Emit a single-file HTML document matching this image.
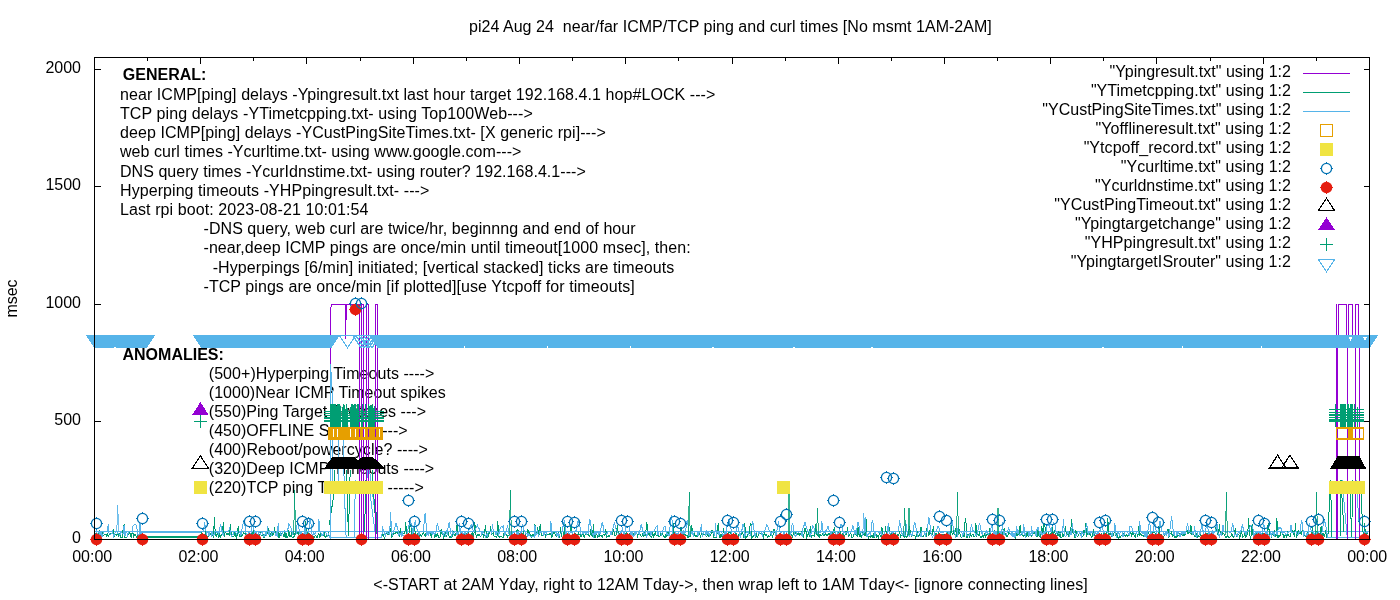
<!DOCTYPE html><html><head><meta charset="utf-8"><style>html,body{margin:0;padding:0;background:#fff;width:1400px;height:600px;overflow:hidden;position:relative}text{font-family:"Liberation Sans",sans-serif}</style></head><body><svg width="1400" height="600" viewBox="0 0 1400 600" style="position:absolute;left:0;top:0;will-change:transform" shape-rendering="crispEdges"><rect width="1400" height="600" fill="#fff"/><g font-family="Liberation Sans" font-size="16" fill="#000">
<text x="469.0" y="32" text-anchor="start" font-weight="normal"  letter-spacing="0.0299" xml:space="preserve">pi24 Aug 24  near/far ICMP/TCP ping and curl times [No msmt 1AM-2AM]</text>
<text x="81" y="542.8" text-anchor="end" font-weight="normal"  xml:space="preserve">0</text>
<text x="81" y="425.3" text-anchor="end" font-weight="normal"  xml:space="preserve">500</text>
<text x="81" y="307.8" text-anchor="end" font-weight="normal"  xml:space="preserve">1000</text>
<text x="81" y="190.3" text-anchor="end" font-weight="normal"  xml:space="preserve">1500</text>
<text x="81" y="72.8" text-anchor="end" font-weight="normal"  xml:space="preserve">2000</text>
<text x="92.2" y="561.8" text-anchor="middle" font-weight="normal"  xml:space="preserve">00:00</text>
<text x="198.45" y="561.8" text-anchor="middle" font-weight="normal"  xml:space="preserve">02:00</text>
<text x="304.7" y="561.8" text-anchor="middle" font-weight="normal"  xml:space="preserve">04:00</text>
<text x="410.95" y="561.8" text-anchor="middle" font-weight="normal"  xml:space="preserve">06:00</text>
<text x="517.2" y="561.8" text-anchor="middle" font-weight="normal"  xml:space="preserve">08:00</text>
<text x="623.45" y="561.8" text-anchor="middle" font-weight="normal"  xml:space="preserve">10:00</text>
<text x="729.7" y="561.8" text-anchor="middle" font-weight="normal"  xml:space="preserve">12:00</text>
<text x="835.95" y="561.8" text-anchor="middle" font-weight="normal"  xml:space="preserve">14:00</text>
<text x="942.2" y="561.8" text-anchor="middle" font-weight="normal"  xml:space="preserve">16:00</text>
<text x="1048.45" y="561.8" text-anchor="middle" font-weight="normal"  xml:space="preserve">18:00</text>
<text x="1154.7" y="561.8" text-anchor="middle" font-weight="normal"  xml:space="preserve">20:00</text>
<text x="1260.95" y="561.8" text-anchor="middle" font-weight="normal"  xml:space="preserve">22:00</text>
<text x="1367.2" y="561.8" text-anchor="middle" font-weight="normal"  xml:space="preserve">00:00</text>
<text x="730.5234375" y="589.8" text-anchor="middle" font-weight="normal"  letter-spacing="0.0469" xml:space="preserve">&lt;-START at 2AM Yday, right to 12AM Tday-&gt;, then wrap left to 1AM Tday&lt;- [ignore connecting lines]</text>
<text transform="translate(17,298.5) rotate(-90)" text-anchor="middle">msec</text>
<text x="122.8" y="79.9" text-anchor="start" font-weight="bold"  xml:space="preserve">GENERAL:</text>
<text x="120" y="99.8" text-anchor="start" font-weight="normal"  letter-spacing="0.0679" xml:space="preserve">near ICMP[ping] delays -Ypingresult.txt last hour target 192.168.4.1 hop#LOCK ---&gt;</text>
<text x="120" y="119.0" text-anchor="start" font-weight="normal"  letter-spacing="0.0887" xml:space="preserve">TCP ping delays -YTimetcpping.txt- using Top100Web---&gt;</text>
<text x="120" y="138.2" text-anchor="start" font-weight="normal"  letter-spacing="0.0727" xml:space="preserve">deep ICMP[ping] delays -YCustPingSiteTimes.txt- [X generic rpi]---&gt;</text>
<text x="120" y="157.39999999999998" text-anchor="start" font-weight="normal"  letter-spacing="0.0481" xml:space="preserve">web curl times -Ycurltime.txt- using www.google.com---&gt;</text>
<text x="120" y="176.6" text-anchor="start" font-weight="normal"  letter-spacing="0.0460" xml:space="preserve">DNS query times -YcurIdnstime.txt- using router? 192.168.4.1---&gt;</text>
<text x="120" y="195.8" text-anchor="start" font-weight="normal"  letter-spacing="0.0714" xml:space="preserve">Hyperping timeouts -YHPpingresult.txt- ---&gt;</text>
<text x="120" y="215.0" text-anchor="start" font-weight="normal"  letter-spacing="0.0879" xml:space="preserve">Last rpi boot: 2023-08-21 10:01:54</text>
<text x="203.5" y="234.2" text-anchor="start" font-weight="normal"  letter-spacing="0.0638" xml:space="preserve">-DNS query, web curl are twice/hr, beginnng and end of hour</text>
<text x="203.5" y="253.39999999999998" text-anchor="start" font-weight="normal"  letter-spacing="0.0692" xml:space="preserve">-near,deep ICMP pings are once/min until timeout[1000 msec], then:</text>
<text x="212.7" y="272.59999999999997" text-anchor="start" font-weight="normal"  letter-spacing="0.0925" xml:space="preserve">-Hyperpings [6/min] initiated; [vertical stacked] ticks are timeouts</text>
<text x="203.5" y="291.79999999999995" text-anchor="start" font-weight="normal"  letter-spacing="0.0705" xml:space="preserve">-TCP pings are once/min [if plotted][use Ytcpoff for timeouts]</text>
<text x="122.5" y="359.6" text-anchor="start" font-weight="bold"  xml:space="preserve">ANOMALIES:</text>
<text x="208.8" y="378.6" text-anchor="start" font-weight="normal"  letter-spacing="0.0483" xml:space="preserve">(500+)Hyperping Timeouts ----&gt;</text>
<text x="208.8" y="397.70000000000005" text-anchor="start" font-weight="normal"  letter-spacing="0.0241" xml:space="preserve">(1000)Near ICMP Timeout spikes</text>
<text x="208.8" y="416.8" text-anchor="start" font-weight="normal"  letter-spacing="0.0345" xml:space="preserve">(550)Ping Target Switches ---&gt;</text>
<text x="208.8" y="435.90000000000003" text-anchor="start" font-weight="normal"  letter-spacing="0.0417" xml:space="preserve">(450)OFFLINE System ----&gt;</text>
<text x="208.8" y="455.0" text-anchor="start" font-weight="normal"  letter-spacing="0.0571" xml:space="preserve">(400)Reboot/powercycle? ----&gt;</text>
<text x="208.8" y="474.1" text-anchor="start" font-weight="normal"  letter-spacing="0.0429" xml:space="preserve">(320)Deep ICMP Timeouts ----&gt;</text>
<text x="208.8" y="493.20000000000005" text-anchor="start" font-weight="normal"  letter-spacing="0.0536" xml:space="preserve">(220)TCP ping Timeouts -----&gt;</text>
<text x="1291.0192307692307" y="76.6" text-anchor="end" font-weight="normal"  letter-spacing="0.0192" xml:space="preserve">"Ypingresult.txt" using 1:2</text>
<text x="1291.0296296296297" y="95.6" text-anchor="end" font-weight="normal"  letter-spacing="0.0296" xml:space="preserve">"YTimetcpping.txt" using 1:2</text>
<text x="1291.0151515151515" y="114.6" text-anchor="end" font-weight="normal"  letter-spacing="0.0152" xml:space="preserve">"YCustPingSiteTimes.txt" using 1:2</text>
<text x="1291.0896551724138" y="133.6" text-anchor="end" font-weight="normal"  letter-spacing="0.0897" xml:space="preserve">"Yofflineresult.txt" using 1:2</text>
<text x="1291.051724137931" y="152.6" text-anchor="end" font-weight="normal"  letter-spacing="0.0517" xml:space="preserve">"Ytcpoff_record.txt" using 1:2</text>
<text x="1291.0625" y="171.6" text-anchor="end" font-weight="normal"  letter-spacing="0.0625" xml:space="preserve">"Ycurltime.txt" using 1:2</text>
<text x="1291.0555555555557" y="190.6" text-anchor="end" font-weight="normal"  letter-spacing="0.0556" xml:space="preserve">"Ycurldnstime.txt" using 1:2</text>
<text x="1291.058064516129" y="209.6" text-anchor="end" font-weight="normal"  letter-spacing="0.0581" xml:space="preserve">"YCustPingTimeout.txt" using 1:2</text>
<text x="1291.0785714285714" y="228.6" text-anchor="end" font-weight="normal"  letter-spacing="0.0786" xml:space="preserve">"Ypingtargetchange" using 1:2</text>
<text x="1291.067857142857" y="247.6" text-anchor="end" font-weight="normal"  letter-spacing="0.0679" xml:space="preserve">"YHPpingresult.txt" using 1:2</text>
<text x="1291.0633333333333" y="266.6" text-anchor="end" font-weight="normal"  letter-spacing="0.0633" xml:space="preserve">"YpingtargetISrouter" using 1:2</text>
</g>
<g stroke="#000" stroke-width="1" fill="none" shape-rendering="crispEdges">
<line x1="147.5" y1="539.5" x2="147.5" y2="536.5"/>
<line x1="147.5" y1="57.5" x2="147.5" y2="60.5"/>
<line x1="200.5" y1="539.5" x2="200.5" y2="533.5"/>
<line x1="200.5" y1="57.5" x2="200.5" y2="63.5"/>
<line x1="253.5" y1="539.5" x2="253.5" y2="536.5"/>
<line x1="253.5" y1="57.5" x2="253.5" y2="60.5"/>
<line x1="306.5" y1="539.5" x2="306.5" y2="533.5"/>
<line x1="306.5" y1="57.5" x2="306.5" y2="63.5"/>
<line x1="360.5" y1="539.5" x2="360.5" y2="536.5"/>
<line x1="360.5" y1="57.5" x2="360.5" y2="60.5"/>
<line x1="413.5" y1="539.5" x2="413.5" y2="533.5"/>
<line x1="413.5" y1="57.5" x2="413.5" y2="63.5"/>
<line x1="466.5" y1="539.5" x2="466.5" y2="536.5"/>
<line x1="466.5" y1="57.5" x2="466.5" y2="60.5"/>
<line x1="519.5" y1="539.5" x2="519.5" y2="533.5"/>
<line x1="519.5" y1="57.5" x2="519.5" y2="63.5"/>
<line x1="572.5" y1="539.5" x2="572.5" y2="536.5"/>
<line x1="572.5" y1="57.5" x2="572.5" y2="60.5"/>
<line x1="625.5" y1="539.5" x2="625.5" y2="533.5"/>
<line x1="625.5" y1="57.5" x2="625.5" y2="63.5"/>
<line x1="678.5" y1="539.5" x2="678.5" y2="536.5"/>
<line x1="678.5" y1="57.5" x2="678.5" y2="60.5"/>
<line x1="732.5" y1="539.5" x2="732.5" y2="533.5"/>
<line x1="732.5" y1="57.5" x2="732.5" y2="63.5"/>
<line x1="785.5" y1="539.5" x2="785.5" y2="536.5"/>
<line x1="785.5" y1="57.5" x2="785.5" y2="60.5"/>
<line x1="838.5" y1="539.5" x2="838.5" y2="533.5"/>
<line x1="838.5" y1="57.5" x2="838.5" y2="63.5"/>
<line x1="891.5" y1="539.5" x2="891.5" y2="536.5"/>
<line x1="891.5" y1="57.5" x2="891.5" y2="60.5"/>
<line x1="944.5" y1="539.5" x2="944.5" y2="533.5"/>
<line x1="944.5" y1="57.5" x2="944.5" y2="63.5"/>
<line x1="997.5" y1="539.5" x2="997.5" y2="536.5"/>
<line x1="997.5" y1="57.5" x2="997.5" y2="60.5"/>
<line x1="1050.5" y1="539.5" x2="1050.5" y2="533.5"/>
<line x1="1050.5" y1="57.5" x2="1050.5" y2="63.5"/>
<line x1="1103.5" y1="539.5" x2="1103.5" y2="536.5"/>
<line x1="1103.5" y1="57.5" x2="1103.5" y2="60.5"/>
<line x1="1156.5" y1="539.5" x2="1156.5" y2="533.5"/>
<line x1="1156.5" y1="57.5" x2="1156.5" y2="63.5"/>
<line x1="1210.5" y1="539.5" x2="1210.5" y2="536.5"/>
<line x1="1210.5" y1="57.5" x2="1210.5" y2="60.5"/>
<line x1="1263.5" y1="539.5" x2="1263.5" y2="533.5"/>
<line x1="1263.5" y1="57.5" x2="1263.5" y2="63.5"/>
<line x1="1316.5" y1="539.5" x2="1316.5" y2="536.5"/>
<line x1="1316.5" y1="57.5" x2="1316.5" y2="60.5"/>
<line x1="94.5" y1="421.5" x2="100.5" y2="421.5"/>
<line x1="1369.5" y1="421.5" x2="1363.5" y2="421.5"/>
<line x1="94.5" y1="304.5" x2="100.5" y2="304.5"/>
<line x1="1369.5" y1="304.5" x2="1363.5" y2="304.5"/>
<line x1="94.5" y1="186.5" x2="100.5" y2="186.5"/>
<line x1="1369.5" y1="186.5" x2="1363.5" y2="186.5"/>
<line x1="94.5" y1="69.5" x2="100.5" y2="69.5"/>
<line x1="1369.5" y1="69.5" x2="1363.5" y2="69.5"/>
</g>
<rect x="94" y="531" width="1275" height="1.1" fill="#56b4e9"/>
<rect x="143.4" y="532" width="56.8" height="1.1" fill="#56b4e9"/>
<rect x="144.5" y="536" width="55.8" height="2" fill="#009e73"/>
<polyline points="94.0,539.0 94.9,539.0 95.8,539.0 96.7,539.0 97.5,539.0 98.4,539.0 99.3,539.0 100.2,539.0 101.1,539.0 102.0,539.0 102.9,539.0 103.7,539.0 104.6,539.0 105.5,539.0 106.4,539.0 107.3,539.0 108.2,539.0 109.1,539.0 109.9,539.0 110.8,539.0 111.7,539.0 112.6,539.0 113.5,539.0 114.4,539.0 115.2,539.0 116.1,539.0 117.0,539.0 117.9,539.0 118.8,539.0 119.7,539.0 120.6,539.0 121.4,539.0 122.3,539.0 123.2,539.0 124.1,539.0 125.0,539.0 125.9,539.0 126.8,539.0 127.6,539.0 128.5,539.0 129.4,539.0 130.3,539.0 131.2,539.0 132.1,539.0 133.0,539.0 133.8,539.0 134.7,539.0 135.6,539.0 136.5,539.0 137.4,539.0 138.3,539.0 139.2,539.0 140.0,539.0 140.9,539.0 141.8,539.0 142.7,539.0 143.6,539.0 200.2,539.0 201.1,539.0 202.0,539.0 202.9,539.0 203.8,539.0 204.7,539.0 205.6,539.0 206.4,539.0 207.3,539.0 208.2,539.0 209.1,539.0 210.0,539.0 210.9,539.0 211.8,539.0 212.6,539.0 213.5,539.0 214.4,539.0 215.3,539.0 216.2,539.0 217.1,539.0 218.0,539.0 218.8,539.0 219.7,539.0 220.6,539.0 221.5,539.0 222.4,539.0 223.3,539.0 224.2,539.0 225.0,539.0 225.9,539.0 226.8,539.0 227.7,539.0 228.6,539.0 229.5,539.0 230.4,539.0 231.2,539.0 232.1,539.0 233.0,539.0 233.9,539.0 234.8,539.0 235.7,539.0 236.6,539.0 237.4,539.0 238.3,539.0 239.2,539.0 240.1,539.0 241.0,539.0 241.9,539.0 242.8,539.0 243.6,539.0 244.5,539.0 245.4,539.0 246.3,539.0 247.2,539.0 248.1,539.0 248.9,539.0 249.8,539.0 250.7,539.0 251.6,539.0 252.5,539.0 253.4,539.0 254.3,539.0 255.1,539.0 256.0,539.0 256.9,539.0 257.8,539.0 258.7,539.0 259.6,539.0 260.5,539.0 261.3,539.0 262.2,539.0 263.1,539.0 264.0,539.0 264.9,539.0 265.8,539.0 266.7,539.0 267.5,539.0 268.4,539.0 269.3,539.0 270.2,539.0 271.1,539.0 272.0,539.0 272.9,539.0 273.7,539.0 274.6,539.0 275.5,539.0 276.4,539.0 277.3,539.0 278.2,539.0 279.1,539.0 279.9,539.0 280.8,539.0 281.7,539.0 282.6,539.0 283.5,539.0 284.4,539.0 285.2,539.0 286.1,539.0 287.0,539.0 287.9,539.0 288.8,539.0 289.7,539.0 290.6,539.0 291.4,539.0 292.3,539.0 293.2,539.0 294.1,539.0 295.0,539.0 295.9,539.0 296.8,539.0 297.6,539.0 298.5,539.0 299.4,539.0 300.3,539.0 301.2,539.0 302.1,539.0 303.0,539.0 303.8,539.0 304.7,539.0 305.6,539.0 306.5,539.0 307.4,539.0 308.3,539.0 309.2,539.0 310.0,539.0 310.9,539.0 311.8,539.0 312.7,539.0 313.6,539.0 314.5,539.0 315.4,539.0 316.2,539.0 317.1,539.0 318.0,539.0 318.9,539.0 319.8,539.0 320.7,539.0 321.6,539.0 322.4,539.0 323.3,539.0 324.2,539.0 325.1,539.0 326.0,539.0 326.9,539.0 327.8,539.0 328.6,539.0 329.5,539.0 330.4,539.0 331.3,539.0 332.2,539.0 333.1,539.0 333.9,539.0 334.8,539.0 335.7,539.0 336.6,539.0 337.5,539.0 338.4,539.0 339.3,539.0 340.1,539.0 341.0,539.0 341.9,539.0 342.8,539.0 343.7,539.0 344.6,539.0 345.5,539.0 346.3,539.0 347.2,539.0 348.1,539.0 349.0,539.0 349.9,539.0 350.8,539.0 351.7,539.0 352.5,539.0 353.4,539.0 354.3,539.0 355.2,539.0 356.1,539.0 357.0,539.0 357.9,539.0 358.7,539.0 359.6,539.0 360.5,539.0 361.4,539.0 362.3,539.0 363.2,539.0 364.1,539.0 364.9,539.0 365.8,539.0 366.7,539.0 367.6,539.0 368.5,539.0 369.4,539.0 370.2,539.0 371.1,539.0 372.0,539.0 372.9,539.0 373.8,539.0 374.7,539.0 375.6,539.0 376.4,539.0 377.3,539.0 378.2,539.0 379.1,539.0 380.0,539.0 380.9,539.0 381.8,539.0 382.6,539.0 383.5,539.0 384.4,539.0 385.3,539.0 386.2,539.0 387.1,539.0 388.0,539.0 388.8,539.0 389.7,539.0 390.6,539.0 391.5,539.0 392.4,539.0 393.3,539.0 394.2,539.0 395.0,539.0 395.9,539.0 396.8,539.0 397.7,539.0 398.6,539.0 399.5,539.0 400.4,539.0 401.2,539.0 402.1,539.0 403.0,539.0 403.9,539.0 404.8,539.0 405.7,539.0 406.6,539.0 407.4,539.0 408.3,539.0 409.2,539.0 410.1,539.0 411.0,539.0 411.9,539.0 412.8,539.0 413.6,539.0 414.5,539.0 415.4,539.0 416.3,539.0 417.2,539.0 418.1,539.0 418.9,539.0 419.8,539.0 420.7,539.0 421.6,539.0 422.5,539.0 423.4,539.0 424.3,539.0 425.1,539.0 426.0,539.0 426.9,539.0 427.8,539.0 428.7,539.0 429.6,539.0 430.5,539.0 431.3,539.0 432.2,539.0 433.1,539.0 434.0,539.0 434.9,539.0 435.8,539.0 436.7,539.0 437.5,539.0 438.4,539.0 439.3,539.0 440.2,539.0 441.1,539.0 442.0,539.0 442.9,539.0 443.7,539.0 444.6,539.0 445.5,539.0 446.4,539.0 447.3,539.0 448.2,539.0 449.1,539.0 449.9,539.0 450.8,539.0 451.7,539.0 452.6,539.0 453.5,539.0 454.4,539.0 455.2,539.0 456.1,539.0 457.0,539.0 457.9,539.0 458.8,539.0 459.7,539.0 460.6,539.0 461.4,539.0 462.3,539.0 463.2,539.0 464.1,539.0 465.0,539.0 465.9,539.0 466.8,539.0 467.6,539.0 468.5,539.0 469.4,539.0 470.3,539.0 471.2,539.0 472.1,539.0 473.0,539.0 473.8,539.0 474.7,539.0 475.6,539.0 476.5,539.0 477.4,539.0 478.3,539.0 479.2,539.0 480.0,539.0 480.9,539.0 481.8,539.0 482.7,539.0 483.6,539.0 484.5,539.0 485.4,539.0 486.2,539.0 487.1,539.0 488.0,539.0 488.9,539.0 489.8,539.0 490.7,539.0 491.6,539.0 492.4,539.0 493.3,539.0 494.2,539.0 495.1,539.0 496.0,539.0 496.9,539.0 497.8,539.0 498.6,539.0 499.5,539.0 500.4,539.0 501.3,539.0 502.2,539.0 503.1,539.0 503.9,539.0 504.8,539.0 505.7,539.0 506.6,539.0 507.5,539.0 508.4,539.0 509.3,539.0 510.1,539.0 511.0,539.0 511.9,539.0 512.8,539.0 513.7,539.0 514.6,539.0 515.5,539.0 516.3,539.0 517.2,539.0 518.1,539.0 519.0,539.0 519.9,539.0 520.8,539.0 521.7,539.0 522.5,539.0 523.4,539.0 524.3,539.0 525.2,539.0 526.1,539.0 527.0,539.0 527.9,539.0 528.7,539.0 529.6,539.0 530.5,539.0 531.4,539.0 532.3,539.0 533.2,539.0 534.1,539.0 534.9,539.0 535.8,539.0 536.7,539.0 537.6,539.0 538.5,539.0 539.4,539.0 540.2,539.0 541.1,539.0 542.0,539.0 542.9,539.0 543.8,539.0 544.7,539.0 545.6,539.0 546.4,539.0 547.3,539.0 548.2,539.0 549.1,539.0 550.0,539.0 550.9,539.0 551.8,539.0 552.6,539.0 553.5,539.0 554.4,539.0 555.3,539.0 556.2,539.0 557.1,539.0 558.0,539.0 558.8,539.0 559.7,539.0 560.6,539.0 561.5,539.0 562.4,539.0 563.3,539.0 564.2,539.0 565.0,539.0 565.9,539.0 566.8,539.0 567.7,539.0 568.6,539.0 569.5,539.0 570.4,539.0 571.2,539.0 572.1,539.0 573.0,539.0 573.9,539.0 574.8,539.0 575.7,539.0 576.6,539.0 577.4,539.0 578.3,539.0 579.2,539.0 580.1,539.0 581.0,539.0 581.9,539.0 582.8,539.0 583.6,539.0 584.5,539.0 585.4,539.0 586.3,539.0 587.2,539.0 588.1,539.0 588.9,539.0 589.8,539.0 590.7,539.0 591.6,539.0 592.5,539.0 593.4,539.0 594.3,539.0 595.1,539.0 596.0,539.0 596.9,539.0 597.8,539.0 598.7,539.0 599.6,539.0 600.5,539.0 601.3,539.0 602.2,539.0 603.1,539.0 604.0,539.0 604.9,539.0 605.8,539.0 606.7,539.0 607.5,539.0 608.4,539.0 609.3,539.0 610.2,539.0 611.1,539.0 612.0,539.0 612.9,539.0 613.7,539.0 614.6,539.0 615.5,539.0 616.4,539.0 617.3,539.0 618.2,539.0 619.1,539.0 619.9,539.0 620.8,539.0 621.7,539.0 622.6,539.0 623.5,539.0 624.4,539.0 625.2,539.0 626.1,539.0 627.0,539.0 627.9,539.0 628.8,539.0 629.7,539.0 630.6,539.0 631.4,539.0 632.3,539.0 633.2,539.0 634.1,539.0 635.0,539.0 635.9,539.0 636.8,539.0 637.6,539.0 638.5,539.0 639.4,539.0 640.3,539.0 641.2,539.0 642.1,539.0 643.0,539.0 643.8,539.0 644.7,539.0 645.6,539.0 646.5,539.0 647.4,539.0 648.3,539.0 649.2,539.0 650.0,539.0 650.9,539.0 651.8,539.0 652.7,539.0 653.6,539.0 654.5,539.0 655.4,539.0 656.2,539.0 657.1,539.0 658.0,539.0 658.9,539.0 659.8,539.0 660.7,539.0 661.6,539.0 662.4,539.0 663.3,539.0 664.2,539.0 665.1,539.0 666.0,539.0 666.9,539.0 667.8,539.0 668.6,539.0 669.5,539.0 670.4,539.0 671.3,539.0 672.2,539.0 673.1,539.0 673.9,539.0 674.8,539.0 675.7,539.0 676.6,539.0 677.5,539.0 678.4,539.0 679.3,539.0 680.1,539.0 681.0,539.0 681.9,539.0 682.8,539.0 683.7,539.0 684.6,539.0 685.5,539.0 686.3,539.0 687.2,539.0 688.1,539.0 689.0,539.0 689.9,539.0 690.8,539.0 691.7,539.0 692.5,539.0 693.4,539.0 694.3,539.0 695.2,539.0 696.1,539.0 697.0,539.0 697.9,539.0 698.7,539.0 699.6,539.0 700.5,539.0 701.4,539.0 702.3,539.0 703.2,539.0 704.1,539.0 704.9,539.0 705.8,539.0 706.7,539.0 707.6,539.0 708.5,539.0 709.4,539.0 710.2,539.0 711.1,539.0 712.0,539.0 712.9,539.0 713.8,539.0 714.7,539.0 715.6,539.0 716.4,539.0 717.3,539.0 718.2,539.0 719.1,539.0 720.0,539.0 720.9,539.0 721.8,539.0 722.6,539.0 723.5,539.0 724.4,539.0 725.3,539.0 726.2,539.0 727.1,539.0 728.0,539.0 728.8,539.0 729.7,539.0 730.6,539.0 731.5,539.0 732.4,539.0 733.3,539.0 734.2,539.0 735.0,539.0 735.9,539.0 736.8,539.0 737.7,539.0 738.6,539.0 739.5,539.0 740.4,539.0 741.2,539.0 742.1,539.0 743.0,539.0 743.9,539.0 744.8,539.0 745.7,539.0 746.6,539.0 747.4,539.0 748.3,539.0 749.2,539.0 750.1,539.0 751.0,539.0 751.9,539.0 752.8,539.0 753.6,539.0 754.5,539.0 755.4,539.0 756.3,539.0 757.2,539.0 758.1,539.0 758.9,539.0 759.8,539.0 760.7,539.0 761.6,539.0 762.5,539.0 763.4,539.0 764.3,539.0 765.1,539.0 766.0,539.0 766.9,539.0 767.8,539.0 768.7,539.0 769.6,539.0 770.5,539.0 771.3,539.0 772.2,539.0 773.1,539.0 774.0,539.0 774.9,539.0 775.8,539.0 776.7,539.0 777.5,539.0 778.4,539.0 779.3,539.0 780.2,539.0 781.1,539.0 782.0,539.0 782.9,539.0 783.7,539.0 784.6,539.0 785.5,539.0 786.4,539.0 787.3,539.0 788.2,539.0 789.1,539.0 789.9,539.0 790.8,539.0 791.7,539.0 792.6,539.0 793.5,539.0 794.4,539.0 795.2,539.0 796.1,539.0 797.0,539.0 797.9,539.0 798.8,539.0 799.7,539.0 800.6,539.0 801.4,539.0 802.3,539.0 803.2,539.0 804.1,539.0 805.0,539.0 805.9,539.0 806.8,539.0 807.6,539.0 808.5,539.0 809.4,539.0 810.3,539.0 811.2,539.0 812.1,539.0 813.0,539.0 813.8,539.0 814.7,539.0 815.6,539.0 816.5,539.0 817.4,539.0 818.3,539.0 819.2,539.0 820.0,539.0 820.9,539.0 821.8,539.0 822.7,539.0 823.6,539.0 824.5,539.0 825.4,539.0 826.2,539.0 827.1,539.0 828.0,539.0 828.9,539.0 829.8,539.0 830.7,539.0 831.6,539.0 832.4,539.0 833.3,539.0 834.2,539.0 835.1,539.0 836.0,539.0 836.9,539.0 837.8,539.0 838.6,539.0 839.5,539.0 840.4,539.0 841.3,539.0 842.2,539.0 843.1,539.0 843.9,539.0 844.8,539.0 845.7,539.0 846.6,539.0 847.5,539.0 848.4,539.0 849.3,539.0 850.1,539.0 851.0,539.0 851.9,539.0 852.8,539.0 853.7,539.0 854.6,539.0 855.5,539.0 856.3,539.0 857.2,539.0 858.1,539.0 859.0,539.0 859.9,539.0 860.8,539.0 861.7,539.0 862.5,539.0 863.4,539.0 864.3,539.0 865.2,539.0 866.1,539.0 867.0,539.0 867.9,539.0 868.7,539.0 869.6,539.0 870.5,539.0 871.4,539.0 872.3,539.0 873.2,539.0 874.1,539.0 874.9,539.0 875.8,539.0 876.7,539.0 877.6,539.0 878.5,539.0 879.4,539.0 880.2,539.0 881.1,539.0 882.0,539.0 882.9,539.0 883.8,539.0 884.7,539.0 885.6,539.0 886.4,539.0 887.3,539.0 888.2,539.0 889.1,539.0 890.0,539.0 890.9,539.0 891.8,539.0 892.6,539.0 893.5,539.0 894.4,539.0 895.3,539.0 896.2,539.0 897.1,539.0 898.0,539.0 898.8,539.0 899.7,539.0 900.6,539.0 901.5,539.0 902.4,539.0 903.3,539.0 904.2,539.0 905.0,539.0 905.9,539.0 906.8,539.0 907.7,539.0 908.6,539.0 909.5,539.0 910.4,539.0 911.2,539.0 912.1,539.0 913.0,539.0 913.9,539.0 914.8,539.0 915.7,539.0 916.6,539.0 917.4,539.0 918.3,539.0 919.2,539.0 920.1,539.0 921.0,539.0 921.9,539.0 922.8,539.0 923.6,539.0 924.5,539.0 925.4,539.0 926.3,539.0 927.2,539.0 928.1,539.0 928.9,539.0 929.8,539.0 930.7,539.0 931.6,539.0 932.5,539.0 933.4,539.0 934.3,539.0 935.1,539.0 936.0,539.0 936.9,539.0 937.8,539.0 938.7,539.0 939.6,539.0 940.5,539.0 941.3,539.0 942.2,539.0 943.1,539.0 944.0,539.0 944.9,539.0 945.8,539.0 946.7,539.0 947.5,539.0 948.4,539.0 949.3,539.0 950.2,539.0 951.1,539.0 952.0,539.0 952.9,539.0 953.7,539.0 954.6,539.0 955.5,539.0 956.4,539.0 957.3,539.0 958.2,539.0 959.1,539.0 959.9,539.0 960.8,539.0 961.7,539.0 962.6,539.0 963.5,539.0 964.4,539.0 965.2,539.0 966.1,539.0 967.0,539.0 967.9,539.0 968.8,539.0 969.7,539.0 970.6,539.0 971.4,539.0 972.3,539.0 973.2,539.0 974.1,539.0 975.0,539.0 975.9,539.0 976.8,539.0 977.6,539.0 978.5,539.0 979.4,539.0 980.3,539.0 981.2,539.0 982.1,539.0 983.0,539.0 983.8,539.0 984.7,539.0 985.6,539.0 986.5,539.0 987.4,539.0 988.3,539.0 989.2,539.0 990.0,539.0 990.9,539.0 991.8,539.0 992.7,539.0 993.6,539.0 994.5,539.0 995.4,539.0 996.2,539.0 997.1,539.0 998.0,539.0 998.9,539.0 999.8,539.0 1000.7,539.0 1001.6,539.0 1002.4,539.0 1003.3,539.0 1004.2,539.0 1005.1,539.0 1006.0,539.0 1006.9,539.0 1007.8,539.0 1008.6,539.0 1009.5,539.0 1010.4,539.0 1011.3,539.0 1012.2,539.0 1013.1,539.0 1013.9,539.0 1014.8,539.0 1015.7,539.0 1016.6,539.0 1017.5,539.0 1018.4,539.0 1019.3,539.0 1020.1,539.0 1021.0,539.0 1021.9,539.0 1022.8,539.0 1023.7,539.0 1024.6,539.0 1025.5,539.0 1026.3,539.0 1027.2,539.0 1028.1,539.0 1029.0,539.0 1029.9,539.0 1030.8,539.0 1031.7,539.0 1032.5,539.0 1033.4,539.0 1034.3,539.0 1035.2,539.0 1036.1,539.0 1037.0,539.0 1037.9,539.0 1038.7,539.0 1039.6,539.0 1040.5,539.0 1041.4,539.0 1042.3,539.0 1043.2,539.0 1044.1,539.0 1044.9,539.0 1045.8,539.0 1046.7,539.0 1047.6,539.0 1048.5,539.0 1049.4,539.0 1050.2,539.0 1051.1,539.0 1052.0,539.0 1052.9,539.0 1053.8,539.0 1054.7,539.0 1055.6,539.0 1056.4,539.0 1057.3,539.0 1058.2,539.0 1059.1,539.0 1060.0,539.0 1060.9,539.0 1061.8,539.0 1062.6,539.0 1063.5,539.0 1064.4,539.0 1065.3,539.0 1066.2,539.0 1067.1,539.0 1068.0,539.0 1068.8,539.0 1069.7,539.0 1070.6,539.0 1071.5,539.0 1072.4,539.0 1073.3,539.0 1074.2,539.0 1075.0,539.0 1075.9,539.0 1076.8,539.0 1077.7,539.0 1078.6,539.0 1079.5,539.0 1080.4,539.0 1081.2,539.0 1082.1,539.0 1083.0,539.0 1083.9,539.0 1084.8,539.0 1085.7,539.0 1086.6,539.0 1087.4,539.0 1088.3,539.0 1089.2,539.0 1090.1,539.0 1091.0,539.0 1091.9,539.0 1092.8,539.0 1093.6,539.0 1094.5,539.0 1095.4,539.0 1096.3,539.0 1097.2,539.0 1098.1,539.0 1098.9,539.0 1099.8,539.0 1100.7,539.0 1101.6,539.0 1102.5,539.0 1103.4,539.0 1104.3,539.0 1105.1,539.0 1106.0,539.0 1106.9,539.0 1107.8,539.0 1108.7,539.0 1109.6,539.0 1110.5,539.0 1111.3,539.0 1112.2,539.0 1113.1,539.0 1114.0,539.0 1114.9,539.0 1115.8,539.0 1116.7,539.0 1117.5,539.0 1118.4,539.0 1119.3,539.0 1120.2,539.0 1121.1,539.0 1122.0,539.0 1122.9,539.0 1123.7,539.0 1124.6,539.0 1125.5,539.0 1126.4,539.0 1127.3,539.0 1128.2,539.0 1129.1,539.0 1129.9,539.0 1130.8,539.0 1131.7,539.0 1132.6,539.0 1133.5,539.0 1134.4,539.0 1135.2,539.0 1136.1,539.0 1137.0,539.0 1137.9,539.0 1138.8,539.0 1139.7,539.0 1140.6,539.0 1141.4,539.0 1142.3,539.0 1143.2,539.0 1144.1,539.0 1145.0,539.0 1145.9,539.0 1146.8,539.0 1147.6,539.0 1148.5,539.0 1149.4,539.0 1150.3,539.0 1151.2,539.0 1152.1,539.0 1153.0,539.0 1153.8,539.0 1154.7,539.0 1155.6,539.0 1156.5,539.0 1157.4,539.0 1158.3,539.0 1159.2,539.0 1160.0,539.0 1160.9,539.0 1161.8,539.0 1162.7,539.0 1163.6,539.0 1164.5,539.0 1165.4,539.0 1166.2,539.0 1167.1,539.0 1168.0,539.0 1168.9,539.0 1169.8,539.0 1170.7,539.0 1171.6,539.0 1172.4,539.0 1173.3,539.0 1174.2,539.0 1175.1,539.0 1176.0,539.0 1176.9,539.0 1177.8,539.0 1178.6,539.0 1179.5,539.0 1180.4,539.0 1181.3,539.0 1182.2,539.0 1183.1,539.0 1183.9,539.0 1184.8,539.0 1185.7,539.0 1186.6,539.0 1187.5,539.0 1188.4,539.0 1189.3,539.0 1190.1,539.0 1191.0,539.0 1191.9,539.0 1192.8,539.0 1193.7,539.0 1194.6,539.0 1195.5,539.0 1196.3,539.0 1197.2,539.0 1198.1,539.0 1199.0,539.0 1199.9,539.0 1200.8,539.0 1201.7,539.0 1202.5,539.0 1203.4,539.0 1204.3,539.0 1205.2,539.0 1206.1,539.0 1207.0,539.0 1207.9,539.0 1208.7,539.0 1209.6,539.0 1210.5,539.0 1211.4,539.0 1212.3,539.0 1213.2,539.0 1214.1,539.0 1214.9,539.0 1215.8,539.0 1216.7,539.0 1217.6,539.0 1218.5,539.0 1219.4,539.0 1220.2,539.0 1221.1,539.0 1222.0,539.0 1222.9,539.0 1223.8,539.0 1224.7,539.0 1225.6,539.0 1226.4,539.0 1227.3,539.0 1228.2,539.0 1229.1,539.0 1230.0,539.0 1230.9,539.0 1231.8,539.0 1232.6,539.0 1233.5,539.0 1234.4,539.0 1235.3,539.0 1236.2,539.0 1237.1,539.0 1238.0,539.0 1238.8,539.0 1239.7,539.0 1240.6,539.0 1241.5,539.0 1242.4,539.0 1243.3,539.0 1244.2,539.0 1245.0,539.0 1245.9,539.0 1246.8,539.0 1247.7,539.0 1248.6,539.0 1249.5,539.0 1250.4,539.0 1251.2,539.0 1252.1,539.0 1253.0,539.0 1253.9,539.0 1254.8,539.0 1255.7,539.0 1256.6,539.0 1257.4,539.0 1258.3,539.0 1259.2,539.0 1260.1,539.0 1261.0,539.0 1261.9,539.0 1262.8,539.0 1263.6,539.0 1264.5,539.0 1265.4,539.0 1266.3,539.0 1267.2,539.0 1268.1,539.0 1268.9,539.0 1269.8,539.0 1270.7,539.0 1271.6,539.0 1272.5,539.0 1273.4,539.0 1274.3,539.0 1275.1,539.0 1276.0,539.0 1276.9,539.0 1277.8,539.0 1278.7,539.0 1279.6,539.0 1280.5,539.0 1281.3,539.0 1282.2,539.0 1283.1,539.0 1284.0,539.0 1284.9,539.0 1285.8,539.0 1286.7,539.0 1287.5,539.0 1288.4,539.0 1289.3,539.0 1290.2,539.0 1291.1,539.0 1292.0,539.0 1292.9,539.0 1293.7,539.0 1294.6,539.0 1295.5,539.0 1296.4,539.0 1297.3,539.0 1298.2,539.0 1299.1,539.0 1299.9,539.0 1300.8,539.0 1301.7,539.0 1302.6,539.0 1303.5,539.0 1304.4,539.0 1305.2,539.0 1306.1,539.0 1307.0,539.0 1307.9,539.0 1308.8,539.0 1309.7,539.0 1310.6,539.0 1311.4,539.0 1312.3,539.0 1313.2,539.0 1314.1,539.0 1315.0,539.0 1315.9,539.0 1316.8,539.0 1317.6,539.0 1318.5,539.0 1319.4,539.0 1320.3,539.0 1321.2,539.0 1322.1,539.0 1323.0,539.0 1323.8,539.0 1324.7,539.0 1325.6,539.0 1326.5,539.0 1327.4,539.0 1328.3,539.0 1329.2,539.0 1330.0,539.0 1330.9,539.0 1331.8,539.0 1332.7,539.0 1333.6,539.0 1334.5,539.0 1335.4,539.0 1336.2,539.0 1337.1,539.0 1338.0,539.0 1338.9,539.0 1339.8,539.0 1340.7,539.0 1341.6,539.0 1342.4,539.0 1343.3,539.0 1344.2,539.0 1345.1,539.0 1346.0,539.0 1346.9,539.0 1347.8,539.0 1348.6,539.0 1349.5,539.0 1350.4,539.0 1351.3,539.0 1352.2,539.0 1353.1,539.0 1353.9,539.0 1354.8,539.0 1355.7,539.0 1356.6,539.0 1357.5,539.0 1358.4,539.0 1359.3,539.0 1360.1,539.0 1361.0,539.0 1361.9,539.0 1362.8,539.0 1363.7,539.0 1364.6,539.0 1365.5,539.0 1366.3,539.0 1367.2,539.0 1368.1,539.0" fill="none" stroke="#9400d3" stroke-width="1.0" stroke-linejoin="miter" />
<polyline points="94.0,537.7 94.9,532.7 95.8,534.7 96.7,533.0 97.5,534.8 98.4,534.8 99.3,530.3 100.2,534.6 101.1,536.5 102.0,532.5 102.9,535.6 103.7,535.8 104.6,534.3 105.5,534.3 106.4,536.0 107.3,532.7 108.2,536.4 109.1,534.8 109.9,533.3 110.8,534.1 111.7,533.3 112.6,532.8 113.5,528.8 114.4,537.0 115.2,534.3 116.1,534.0 117.0,535.4 117.9,532.8 118.8,536.3 119.7,533.6 120.6,537.5 121.4,537.7 122.3,537.9 123.2,527.7 124.1,524.5 125.0,537.8 125.9,537.7 126.8,537.9 127.6,534.2 128.5,534.4 129.4,532.6 130.3,533.3 131.2,537.7 132.1,532.8 133.0,533.2 133.8,536.9 134.7,534.6 135.6,534.8 136.5,537.4 137.4,537.4 138.3,534.6 139.2,537.0 140.0,533.6 140.9,534.6 141.8,535.4 142.7,537.0 143.6,537.0 200.2,537.0 201.1,533.6 202.0,532.7 202.9,535.3 203.8,535.5 204.7,534.8 205.6,532.2 206.4,536.8 207.3,537.2 208.2,536.2 209.1,534.8 210.0,532.7 210.9,535.0 211.8,535.3 212.6,535.3 213.5,537.4 214.4,517.0 215.3,535.1 216.2,536.1 217.1,533.9 218.0,534.2 218.8,537.8 219.7,534.4 220.6,536.9 221.5,535.4 222.4,533.8 223.3,522.3 224.2,537.1 225.0,532.8 225.9,532.9 226.8,534.8 227.7,533.7 228.6,533.6 229.5,535.9 230.4,524.5 231.2,534.3 232.1,537.1 233.0,536.5 233.9,536.1 234.8,532.7 235.7,536.0 236.6,537.9 237.4,533.3 238.3,526.1 239.2,536.4 240.1,536.3 241.0,536.7 241.9,535.7 242.8,534.1 243.6,532.7 244.5,533.4 245.4,534.0 246.3,535.3 247.2,534.7 248.1,536.0 248.9,537.6 249.8,537.3 250.7,537.9 251.6,534.4 252.5,537.0 253.4,527.8 254.3,536.6 255.1,533.4 256.0,532.5 256.9,534.7 257.8,535.6 258.7,533.6 259.6,536.1 260.5,533.2 261.3,535.5 262.2,535.3 263.1,534.7 264.0,537.5 264.9,536.0 265.8,532.6 266.7,534.5 267.5,532.5 268.4,527.9 269.3,536.5 270.2,536.1 271.1,533.2 272.0,532.6 272.9,535.2 273.7,532.9 274.6,527.2 275.5,535.9 276.4,535.8 277.3,535.7 278.2,533.3 279.1,537.9 279.9,533.8 280.8,535.4 281.7,533.9 282.6,532.3 283.5,535.5 284.4,533.1 285.2,537.7 286.1,532.9 287.0,537.8 287.9,537.0 288.8,530.3 289.7,536.4 290.6,535.9 291.4,533.8 292.3,538.0 293.2,537.3 294.1,536.5 295.0,532.6 295.9,533.2 296.8,532.6 297.6,533.0 298.5,532.2 299.4,536.6 300.3,535.5 301.2,535.9 302.1,536.8 303.0,535.6 303.8,537.4 304.7,537.1 305.6,521.4 306.5,535.7 307.4,533.4 308.3,536.8 309.2,533.0 310.0,537.9 310.9,534.7 311.8,536.9 312.7,535.3 313.6,537.6 314.5,537.1 315.4,535.7 316.2,536.4 317.1,537.5 318.0,535.1 318.9,533.4 319.8,537.9 320.7,532.8 321.6,534.3 322.4,534.9 323.3,535.4 324.2,532.4 325.1,537.9 326.0,536.5 326.9,535.5 327.8,536.6 328.6,532.5 329.5,537.5 330.4,537.5 331.3,537.5 332.2,537.5 333.1,537.5 333.9,537.5 334.8,537.5 335.7,537.5 336.6,537.5 337.5,537.5 338.4,537.5 339.3,537.5 340.1,537.5 341.0,537.5 341.9,537.5 342.8,537.5 343.7,537.5 344.6,537.5 345.5,537.5 346.3,537.5 347.2,537.5 348.1,537.5 349.0,537.5 349.9,537.5 350.8,537.5 351.7,537.5 352.5,537.5 353.4,537.5 354.3,537.5 355.2,537.5 356.1,537.5 357.0,537.5 357.9,537.5 358.7,537.5 359.6,537.5 360.5,537.5 361.4,537.5 362.3,537.5 363.2,537.5 364.1,537.5 364.9,537.5 365.8,537.5 366.7,537.5 367.6,537.5 368.5,537.5 369.4,537.5 370.2,537.5 371.1,537.5 372.0,537.5 372.9,537.5 373.8,537.5 374.7,537.5 375.6,537.5 376.4,537.5 377.3,537.5 378.2,537.5 379.1,537.5 380.0,537.5 380.9,537.5 381.8,537.5 382.6,532.4 383.5,535.5 384.4,537.9 385.3,536.6 386.2,533.7 387.1,533.2 388.0,534.7 388.8,532.9 389.7,534.4 390.6,527.7 391.5,537.2 392.4,537.0 393.3,533.6 394.2,533.9 395.0,532.7 395.9,533.3 396.8,532.4 397.7,533.4 398.6,532.2 399.5,536.5 400.4,527.7 401.2,535.0 402.1,532.7 403.0,533.8 403.9,533.0 404.8,533.3 405.7,522.0 406.6,532.7 407.4,535.3 408.3,535.1 409.2,532.5 410.1,525.7 411.0,527.0 411.9,537.1 412.8,527.8 413.6,535.6 414.5,525.0 415.4,535.4 416.3,537.0 417.2,537.0 418.1,532.7 418.9,537.1 419.8,534.0 420.7,535.8 421.6,536.8 422.5,533.6 423.4,532.5 424.3,534.5 425.1,536.2 426.0,533.5 426.9,535.2 427.8,534.7 428.7,532.7 429.6,532.5 430.5,534.5 431.3,536.9 432.2,532.4 433.1,533.2 434.0,532.6 434.9,537.6 435.8,533.2 436.7,537.2 437.5,533.1 438.4,536.5 439.3,537.8 440.2,536.4 441.1,529.5 442.0,533.6 442.9,534.3 443.7,537.5 444.6,535.4 445.5,533.3 446.4,536.6 447.3,534.8 448.2,532.6 449.1,535.9 449.9,537.4 450.8,536.6 451.7,537.8 452.6,534.1 453.5,532.3 454.4,534.9 455.2,535.8 456.1,533.2 457.0,525.0 457.9,534.4 458.8,535.4 459.7,535.3 460.6,534.1 461.4,533.6 462.3,535.5 463.2,533.1 464.1,533.8 465.0,535.0 465.9,533.3 466.8,534.7 467.6,535.1 468.5,533.2 469.4,534.5 470.3,535.7 471.2,537.9 472.1,532.3 473.0,536.2 473.8,536.5 474.7,521.6 475.6,532.3 476.5,538.0 477.4,534.5 478.3,535.5 479.2,534.2 480.0,536.3 480.9,536.2 481.8,534.6 482.7,533.5 483.6,536.5 484.5,534.3 485.4,525.4 486.2,532.7 487.1,538.0 488.0,536.9 488.9,532.3 489.8,533.6 490.7,525.9 491.6,534.3 492.4,533.6 493.3,532.9 494.2,537.1 495.1,536.5 496.0,536.1 496.9,537.8 497.8,520.7 498.6,536.2 499.5,537.0 500.4,536.4 501.3,536.1 502.2,537.1 503.1,537.6 503.9,533.4 504.8,533.3 505.7,534.1 506.6,534.2 507.5,537.0 508.4,535.6 509.3,534.4 510.1,536.3 511.0,533.1 511.9,535.2 512.8,534.8 513.7,536.0 514.6,535.1 515.5,534.7 516.3,534.7 517.2,529.2 518.1,530.6 519.0,534.4 519.9,533.4 520.8,534.8 521.7,533.7 522.5,536.6 523.4,530.9 524.3,537.4 525.2,534.3 526.1,536.1 527.0,537.1 527.9,529.4 528.7,534.5 529.6,532.6 530.5,535.8 531.4,537.0 532.3,534.9 533.2,536.7 534.1,533.9 534.9,523.9 535.8,532.5 536.7,534.2 537.6,527.3 538.5,533.5 539.4,534.1 540.2,523.6 541.1,533.6 542.0,535.6 542.9,535.3 543.8,533.8 544.7,532.5 545.6,537.9 546.4,534.1 547.3,534.1 548.2,534.1 549.1,534.8 550.0,533.0 550.9,534.2 551.8,537.2 552.6,534.6 553.5,532.6 554.4,532.6 555.3,534.7 556.2,536.0 557.1,534.1 558.0,534.6 558.8,532.3 559.7,537.6 560.6,527.0 561.5,536.6 562.4,526.9 563.3,534.9 564.2,537.4 565.0,523.6 565.9,537.3 566.8,534.3 567.7,534.9 568.6,534.4 569.5,534.0 570.4,532.6 571.2,523.9 572.1,534.4 573.0,536.4 573.9,535.3 574.8,535.7 575.7,533.8 576.6,535.7 577.4,536.2 578.3,533.2 579.2,535.0 580.1,534.0 581.0,537.1 581.9,535.1 582.8,534.5 583.6,535.3 584.5,537.9 585.4,532.4 586.3,532.8 587.2,534.8 588.1,534.8 588.9,535.3 589.8,536.2 590.7,529.1 591.6,534.1 592.5,537.1 593.4,524.5 594.3,536.5 595.1,537.9 596.0,532.5 596.9,534.7 597.8,537.8 598.7,532.6 599.6,536.0 600.5,535.6 601.3,535.4 602.2,537.5 603.1,534.3 604.0,533.9 604.9,535.9 605.8,529.1 606.7,537.1 607.5,536.5 608.4,536.0 609.3,536.6 610.2,534.1 611.1,533.5 612.0,535.3 612.9,532.7 613.7,529.3 614.6,535.8 615.5,535.3 616.4,534.6 617.3,525.0 618.2,533.1 619.1,536.2 619.9,533.2 620.8,534.4 621.7,537.0 622.6,534.4 623.5,533.2 624.4,536.8 625.2,535.0 626.1,532.6 627.0,533.7 627.9,537.6 628.8,534.5 629.7,533.9 630.6,536.4 631.4,532.2 632.3,533.2 633.2,533.1 634.1,535.0 635.0,534.1 635.9,534.2 636.8,533.6 637.6,536.3 638.5,532.6 639.4,532.9 640.3,535.4 641.2,536.6 642.1,536.0 643.0,532.9 643.8,536.7 644.7,532.4 645.6,535.5 646.5,523.4 647.4,525.1 648.3,534.4 649.2,533.2 650.0,535.5 650.9,536.8 651.8,537.2 652.7,532.4 653.6,536.5 654.5,535.1 655.4,532.3 656.2,535.5 657.1,535.1 658.0,534.9 658.9,536.8 659.8,537.0 660.7,534.1 661.6,535.2 662.4,532.2 663.3,536.5 664.2,536.6 665.1,537.5 666.0,533.7 666.9,536.1 667.8,532.5 668.6,532.3 669.5,534.9 670.4,537.2 671.3,535.4 672.2,533.7 673.1,523.1 673.9,536.8 674.8,532.6 675.7,533.6 676.6,536.9 677.5,534.8 678.4,535.1 679.3,535.3 680.1,535.5 681.0,526.8 681.9,532.4 682.8,535.1 683.7,534.5 684.6,534.3 685.5,535.0 686.3,535.8 687.2,535.8 688.1,537.6 689.0,533.5 689.9,536.8 690.8,536.0 691.7,524.6 692.5,532.9 693.4,533.5 694.3,533.0 695.2,536.2 696.1,535.3 697.0,537.0 697.9,536.3 698.7,532.5 699.6,533.3 700.5,536.4 701.4,534.2 702.3,535.8 703.2,534.1 704.1,534.6 704.9,535.1 705.8,535.6 706.7,536.6 707.6,534.8 708.5,536.3 709.4,534.3 710.2,535.2 711.1,534.1 712.0,530.5 712.9,532.7 713.8,537.8 714.7,537.5 715.6,537.6 716.4,537.8 717.3,532.7 718.2,523.3 719.1,536.0 720.0,537.9 720.9,534.1 721.8,536.2 722.6,536.9 723.5,527.9 724.4,537.3 725.3,537.2 726.2,534.7 727.1,535.2 728.0,534.4 728.8,532.3 729.7,532.6 730.6,532.5 731.5,534.9 732.4,537.9 733.3,536.9 734.2,535.2 735.0,537.8 735.9,532.3 736.8,536.4 737.7,537.6 738.6,534.6 739.5,533.3 740.4,536.5 741.2,534.1 742.1,532.3 743.0,534.0 743.9,537.9 744.8,523.4 745.7,538.0 746.6,537.4 747.4,535.5 748.3,533.7 749.2,533.2 750.1,525.2 751.0,523.6 751.9,537.5 752.8,536.3 753.6,536.2 754.5,533.5 755.4,537.9 756.3,534.4 757.2,537.6 758.1,535.8 758.9,534.2 759.8,533.5 760.7,533.5 761.6,533.0 762.5,536.7 763.4,537.8 764.3,532.4 765.1,535.2 766.0,534.5 766.9,536.0 767.8,537.3 768.7,535.5 769.6,536.6 770.5,535.1 771.3,532.6 772.2,537.1 773.1,534.6 774.0,529.4 774.9,532.9 775.8,532.6 776.7,534.2 777.5,537.9 778.4,537.0 779.3,534.9 780.2,532.4 781.1,537.0 782.0,536.2 782.9,537.1 783.7,533.2 784.6,537.2 785.5,536.6 786.4,534.2 787.3,536.8 788.2,535.3 789.1,534.8 789.9,535.5 790.8,533.7 791.7,534.4 792.6,537.6 793.5,532.7 794.4,534.2 795.2,532.8 796.1,534.3 797.0,532.9 797.9,534.8 798.8,532.6 799.7,535.2 800.6,533.2 801.4,532.3 802.3,534.0 803.2,537.8 804.1,533.3 805.0,528.1 805.9,530.6 806.8,537.7 807.6,535.7 808.5,533.2 809.4,535.1 810.3,526.4 811.2,537.3 812.1,535.4 813.0,534.8 813.8,535.7 814.7,536.2 815.6,524.0 816.5,534.2 817.4,535.2 818.3,532.3 819.2,537.9 820.0,533.9 820.9,536.0 821.8,535.4 822.7,533.7 823.6,535.3 824.5,535.9 825.4,533.0 826.2,535.6 827.1,534.3 828.0,535.4 828.9,533.7 829.8,533.4 830.7,537.9 831.6,534.3 832.4,533.3 833.3,537.6 834.2,527.4 835.1,533.6 836.0,537.0 836.9,537.9 837.8,533.6 838.6,533.0 839.5,535.6 840.4,532.8 841.3,537.2 842.2,534.9 843.1,533.3 843.9,537.2 844.8,535.4 845.7,532.2 846.6,534.3 847.5,527.4 848.4,536.1 849.3,535.2 850.1,533.6 851.0,533.6 851.9,537.2 852.8,537.5 853.7,534.4 854.6,532.4 855.5,534.2 856.3,534.6 857.2,536.0 858.1,526.8 859.0,534.4 859.9,536.9 860.8,533.7 861.7,537.5 862.5,533.1 863.4,534.0 864.3,532.2 865.2,536.4 866.1,519.3 867.0,534.9 867.9,535.5 868.7,537.8 869.6,536.4 870.5,537.0 871.4,536.0 872.3,537.2 873.2,534.1 874.1,537.9 874.9,533.5 875.8,532.7 876.7,536.9 877.6,535.8 878.5,537.7 879.4,532.5 880.2,536.0 881.1,537.2 882.0,527.5 882.9,533.8 883.8,537.9 884.7,535.7 885.6,525.6 886.4,536.7 887.3,537.6 888.2,526.5 889.1,527.7 890.0,532.9 890.9,536.9 891.8,533.2 892.6,533.5 893.5,536.1 894.4,533.6 895.3,533.3 896.2,536.9 897.1,534.7 898.0,535.6 898.8,534.6 899.7,532.2 900.6,537.1 901.5,535.5 902.4,534.7 903.3,535.6 904.2,537.5 905.0,534.8 905.9,536.5 906.8,537.8 907.7,535.7 908.6,532.5 909.5,526.0 910.4,532.4 911.2,536.2 912.1,533.6 913.0,535.4 913.9,535.3 914.8,535.7 915.7,538.0 916.6,535.4 917.4,532.4 918.3,536.0 919.2,534.5 920.1,535.9 921.0,526.9 921.9,536.2 922.8,536.7 923.6,536.8 924.5,533.6 925.4,533.5 926.3,536.9 927.2,525.5 928.1,532.5 928.9,535.7 929.8,529.7 930.7,533.7 931.6,534.5 932.5,534.4 933.4,525.6 934.3,535.4 935.1,535.4 936.0,533.1 936.9,537.4 937.8,535.8 938.7,533.1 939.6,536.8 940.5,535.5 941.3,534.4 942.2,534.0 943.1,534.8 944.0,537.1 944.9,536.3 945.8,536.7 946.7,533.7 947.5,532.9 948.4,536.1 949.3,535.7 950.2,535.2 951.1,525.5 952.0,532.7 952.9,535.2 953.7,529.1 954.6,535.1 955.5,527.7 956.4,536.0 957.3,536.4 958.2,532.4 959.1,529.6 959.9,534.0 960.8,536.4 961.7,537.8 962.6,536.1 963.5,536.0 964.4,536.2 965.2,517.7 966.1,523.4 967.0,537.7 967.9,534.5 968.8,534.8 969.7,537.0 970.6,533.5 971.4,536.2 972.3,534.0 973.2,534.0 974.1,536.8 975.0,536.2 975.9,523.1 976.8,535.4 977.6,534.1 978.5,535.2 979.4,532.9 980.3,537.5 981.2,537.5 982.1,536.3 983.0,535.2 983.8,537.1 984.7,532.7 985.6,536.5 986.5,534.8 987.4,534.6 988.3,534.5 989.2,537.3 990.0,527.9 990.9,536.0 991.8,534.7 992.7,537.4 993.6,534.7 994.5,530.1 995.4,534.3 996.2,533.0 997.1,537.1 998.0,533.5 998.9,535.6 999.8,533.4 1000.7,535.7 1001.6,537.5 1002.4,533.2 1003.3,532.5 1004.2,527.8 1005.1,535.8 1006.0,532.9 1006.9,536.3 1007.8,536.2 1008.6,532.6 1009.5,533.0 1010.4,534.7 1011.3,534.0 1012.2,532.8 1013.1,536.8 1013.9,536.0 1014.8,535.8 1015.7,537.8 1016.6,532.4 1017.5,536.2 1018.4,532.7 1019.3,536.4 1020.1,524.6 1021.0,532.9 1021.9,534.6 1022.8,535.5 1023.7,536.6 1024.6,533.4 1025.5,534.0 1026.3,537.0 1027.2,532.5 1028.1,536.4 1029.0,534.0 1029.9,535.5 1030.8,535.0 1031.7,536.6 1032.5,533.8 1033.4,533.7 1034.3,533.1 1035.2,532.8 1036.1,536.3 1037.0,536.6 1037.9,528.5 1038.7,535.3 1039.6,536.5 1040.5,537.1 1041.4,526.2 1042.3,528.3 1043.2,533.6 1044.1,523.1 1044.9,526.2 1045.8,535.7 1046.7,532.9 1047.6,536.1 1048.5,533.3 1049.4,536.8 1050.2,533.3 1051.1,535.8 1052.0,526.7 1052.9,535.5 1053.8,532.9 1054.7,530.5 1055.6,536.5 1056.4,536.4 1057.3,535.0 1058.2,532.3 1059.1,536.5 1060.0,532.2 1060.9,537.5 1061.8,537.8 1062.6,533.3 1063.5,537.1 1064.4,532.4 1065.3,525.6 1066.2,533.2 1067.1,534.2 1068.0,533.6 1068.8,536.6 1069.7,532.6 1070.6,534.1 1071.5,518.8 1072.4,532.7 1073.3,532.5 1074.2,534.5 1075.0,537.9 1075.9,530.5 1076.8,535.6 1077.7,536.3 1078.6,534.9 1079.5,532.8 1080.4,534.1 1081.2,535.1 1082.1,536.8 1083.0,536.1 1083.9,529.8 1084.8,532.5 1085.7,523.4 1086.6,536.5 1087.4,533.4 1088.3,532.7 1089.2,532.5 1090.1,534.8 1091.0,535.7 1091.9,537.2 1092.8,533.7 1093.6,529.2 1094.5,534.9 1095.4,537.0 1096.3,534.0 1097.2,533.8 1098.1,536.0 1098.9,537.7 1099.8,536.1 1100.7,538.0 1101.6,534.6 1102.5,536.7 1103.4,533.5 1104.3,536.4 1105.1,532.7 1106.0,535.8 1106.9,534.0 1107.8,518.2 1108.7,535.4 1109.6,534.1 1110.5,532.9 1111.3,536.8 1112.2,535.5 1113.1,535.2 1114.0,532.7 1114.9,533.1 1115.8,535.1 1116.7,534.0 1117.5,536.7 1118.4,538.0 1119.3,536.6 1120.2,537.7 1121.1,535.5 1122.0,535.8 1122.9,532.9 1123.7,534.4 1124.6,535.3 1125.5,536.0 1126.4,535.0 1127.3,535.9 1128.2,534.4 1129.1,536.0 1129.9,533.0 1130.8,532.4 1131.7,537.1 1132.6,532.4 1133.5,533.5 1134.4,535.7 1135.2,537.1 1136.1,533.7 1137.0,533.9 1137.9,536.7 1138.8,526.1 1139.7,534.9 1140.6,533.4 1141.4,534.9 1142.3,536.0 1143.2,535.1 1144.1,537.0 1145.0,534.9 1145.9,533.1 1146.8,537.8 1147.6,535.3 1148.5,532.8 1149.4,534.7 1150.3,537.5 1151.2,537.5 1152.1,537.4 1153.0,532.3 1153.8,532.7 1154.7,532.5 1155.6,535.1 1156.5,533.3 1157.4,536.5 1158.3,536.3 1159.2,523.9 1160.0,535.3 1160.9,533.9 1161.8,535.5 1162.7,537.9 1163.6,537.4 1164.5,534.4 1165.4,532.9 1166.2,535.7 1167.1,533.2 1168.0,529.1 1168.9,537.9 1169.8,533.6 1170.7,533.4 1171.6,532.2 1172.4,536.7 1173.3,535.4 1174.2,536.3 1175.1,537.8 1176.0,535.9 1176.9,537.4 1177.8,535.8 1178.6,535.3 1179.5,534.0 1180.4,535.8 1181.3,533.1 1182.2,535.2 1183.1,535.4 1183.9,534.3 1184.8,535.2 1185.7,533.7 1186.6,527.4 1187.5,533.0 1188.4,533.0 1189.3,532.5 1190.1,533.3 1191.0,525.5 1191.9,534.2 1192.8,533.9 1193.7,534.6 1194.6,536.0 1195.5,536.5 1196.3,533.2 1197.2,537.0 1198.1,535.0 1199.0,537.1 1199.9,536.3 1200.8,534.6 1201.7,537.2 1202.5,537.8 1203.4,537.6 1204.3,536.5 1205.2,537.0 1206.1,533.9 1207.0,533.3 1207.9,535.9 1208.7,537.2 1209.6,537.3 1210.5,536.8 1211.4,535.6 1212.3,535.1 1213.2,535.1 1214.1,532.3 1214.9,532.9 1215.8,526.8 1216.7,530.2 1217.6,533.4 1218.5,536.4 1219.4,524.1 1220.2,532.6 1221.1,534.0 1222.0,535.2 1222.9,532.6 1223.8,533.6 1224.7,534.6 1225.6,537.7 1226.4,537.3 1227.3,535.9 1228.2,536.6 1229.1,537.5 1230.0,537.3 1230.9,536.4 1231.8,533.5 1232.6,535.8 1233.5,537.1 1234.4,534.7 1235.3,528.0 1236.2,537.0 1237.1,536.1 1238.0,534.9 1238.8,534.4 1239.7,537.7 1240.6,536.2 1241.5,529.1 1242.4,537.6 1243.3,536.8 1244.2,535.6 1245.0,532.7 1245.9,536.9 1246.8,535.6 1247.7,534.2 1248.6,518.0 1249.5,533.9 1250.4,537.9 1251.2,535.2 1252.1,523.6 1253.0,535.3 1253.9,533.1 1254.8,536.0 1255.7,534.3 1256.6,533.4 1257.4,535.8 1258.3,534.3 1259.2,535.1 1260.1,533.4 1261.0,536.3 1261.9,535.8 1262.8,532.7 1263.6,535.6 1264.5,534.4 1265.4,535.9 1266.3,533.3 1267.2,537.3 1268.1,523.3 1268.9,528.8 1269.8,534.4 1270.7,533.6 1271.6,536.3 1272.5,533.0 1273.4,534.7 1274.3,530.1 1275.1,534.7 1276.0,536.5 1276.9,518.0 1277.8,538.0 1278.7,535.8 1279.6,536.8 1280.5,533.9 1281.3,530.3 1282.2,532.7 1283.1,534.8 1284.0,537.8 1284.9,535.4 1285.8,534.6 1286.7,537.7 1287.5,532.6 1288.4,534.6 1289.3,536.2 1290.2,536.4 1291.1,532.7 1292.0,532.8 1292.9,530.6 1293.7,534.0 1294.6,535.8 1295.5,523.3 1296.4,537.7 1297.3,535.4 1298.2,530.3 1299.1,533.4 1299.9,533.4 1300.8,532.7 1301.7,534.2 1302.6,525.2 1303.5,535.1 1304.4,534.1 1305.2,536.9 1306.1,536.6 1307.0,535.4 1307.9,532.5 1308.8,536.9 1309.7,538.0 1310.6,535.6 1311.4,537.9 1312.3,525.9 1313.2,536.9 1314.1,537.6 1315.0,537.5 1315.9,530.1 1316.8,536.1 1317.6,537.0 1318.5,534.9 1319.4,533.5 1320.3,534.1 1321.2,525.6 1322.1,536.2 1323.0,533.6 1323.8,535.1 1324.7,536.0 1325.6,529.6 1326.5,537.7 1327.4,537.5 1328.3,537.5 1329.2,537.5 1330.0,537.5 1330.9,537.5 1331.8,537.5 1332.7,537.5 1333.6,537.5 1334.5,537.5 1335.4,537.5 1336.2,537.5 1337.1,537.5 1338.0,537.5 1338.9,537.5 1339.8,537.5 1340.7,537.5 1341.6,537.5 1342.4,537.5 1343.3,537.5 1344.2,537.5 1345.1,537.5 1346.0,537.5 1346.9,537.5 1347.8,537.5 1348.6,537.5 1349.5,537.5 1350.4,537.5 1351.3,537.5 1352.2,537.5 1353.1,537.5 1353.9,537.5 1354.8,537.5 1355.7,537.5 1356.6,537.5 1357.5,537.5 1358.4,537.5 1359.3,537.5 1360.1,537.5 1361.0,537.5 1361.9,537.5 1362.8,537.5 1363.7,537.5 1364.6,523.2 1365.5,535.8 1366.3,533.7 1367.2,533.1 1368.1,533.2" fill="none" stroke="#009e73" stroke-width="1.0" stroke-linejoin="miter" />
<polyline points="94.0,534.4 94.9,533.8 95.8,534.5 96.7,531.5 97.5,534.8 98.4,531.6 99.3,531.5 100.2,535.2 101.1,531.5 102.0,536.8 102.9,534.7 103.7,531.5 104.6,531.5 105.5,531.4 106.4,531.5 107.3,531.5 108.2,524.1 109.1,533.6 109.9,534.1 110.8,534.0 111.7,533.7 112.6,531.5 113.5,537.0 114.4,535.2 115.2,532.4 116.1,531.5 117.0,531.5 117.9,533.4 118.8,533.3 119.7,536.1 120.6,531.5 121.4,531.5 122.3,533.8 123.2,533.4 124.1,525.4 125.0,535.7 125.9,531.5 126.8,531.5 127.6,536.8 128.5,531.7 129.4,531.5 130.3,531.5 131.2,531.5 132.1,532.1 133.0,526.3 133.8,525.1 134.7,524.1 135.6,524.1 136.5,526.6 137.4,531.5 138.3,535.8 139.2,536.3 140.0,523.5 140.9,536.1 141.8,531.6 142.7,532.3 143.6,532.5 200.2,532.5 201.1,531.5 202.0,531.5 202.9,531.5 203.8,527.8 204.7,523.7 205.6,526.7 206.4,534.4 207.3,532.1 208.2,531.5 209.1,535.9 210.0,531.5 210.9,531.5 211.8,536.6 212.6,531.5 213.5,536.3 214.4,533.5 215.3,531.5 216.2,531.5 217.1,532.4 218.0,532.5 218.8,534.6 219.7,529.0 220.6,524.1 221.5,529.1 222.4,531.5 223.3,536.1 224.2,532.7 225.0,532.2 225.9,531.5 226.8,531.5 227.7,531.4 228.6,531.5 229.5,528.6 230.4,531.5 231.2,536.3 232.1,534.9 233.0,534.5 233.9,531.5 234.8,531.5 235.7,531.5 236.6,535.2 237.4,531.1 238.3,533.9 239.2,532.9 240.1,531.5 241.0,535.4 241.9,529.3 242.8,525.5 243.6,520.5 244.5,525.6 245.4,526.0 246.3,536.2 247.2,534.7 248.1,534.5 248.9,531.5 249.8,537.0 250.7,535.4 251.6,528.1 252.5,526.2 253.4,526.7 254.3,531.2 255.1,533.9 256.0,531.5 256.9,534.0 257.8,536.5 258.7,531.5 259.6,531.5 260.5,535.1 261.3,531.5 262.2,531.5 263.1,535.0 264.0,536.4 264.9,535.0 265.8,531.5 266.7,535.8 267.5,526.0 268.4,534.5 269.3,531.8 270.2,536.0 271.1,535.3 272.0,532.7 272.9,531.5 273.7,532.7 274.6,531.5 275.5,534.8 276.4,532.9 277.3,536.9 278.2,522.6 279.1,531.5 279.9,531.2 280.8,534.4 281.7,535.7 282.6,531.5 283.5,531.5 284.4,531.1 285.2,532.4 286.1,531.5 287.0,531.5 287.9,529.1 288.8,524.3 289.7,525.6 290.6,526.2 291.4,530.2 292.3,531.5 293.2,535.3 294.1,531.5 295.0,531.5 295.9,535.2 296.8,526.2 297.6,521.6 298.5,525.2 299.4,531.5 300.3,535.3 301.2,531.5 302.1,534.8 303.0,533.3 303.8,536.3 304.7,524.7 305.6,534.9 306.5,531.5 307.4,535.9 308.3,535.3 309.2,525.6 310.0,519.2 310.9,523.0 311.8,532.9 312.7,536.1 313.6,531.5 314.5,534.3 315.4,533.9 316.2,531.5 317.1,531.4 318.0,532.0 318.9,519.2 319.8,531.5 320.7,531.5 321.6,535.3 322.4,535.1 323.3,534.0 324.2,531.5 325.1,531.5 326.0,532.7 326.9,534.8 327.8,536.1 328.6,532.9 329.5,537.5 330.4,537.5 331.3,537.5 332.2,537.5 333.1,537.5 333.9,537.5 334.8,537.5 335.7,537.5 336.6,537.5 337.5,537.5 338.4,537.5 339.3,537.5 340.1,537.5 341.0,537.5 341.9,537.5 342.8,537.5 343.7,537.5 344.6,537.5 345.5,537.5 346.3,537.5 347.2,537.5 348.1,537.5 349.0,537.5 349.9,537.5 350.8,537.5 351.7,537.5 352.5,537.5 353.4,537.5 354.3,537.5 355.2,537.5 356.1,537.5 357.0,537.5 357.9,537.5 358.7,537.5 359.6,537.5 360.5,537.5 361.4,537.5 362.3,537.5 363.2,537.5 364.1,537.5 364.9,537.5 365.8,537.5 366.7,537.5 367.6,537.5 368.5,537.5 369.4,537.5 370.2,537.5 371.1,537.5 372.0,537.5 372.9,537.5 373.8,537.5 374.7,537.5 375.6,537.5 376.4,537.5 377.3,537.5 378.2,537.5 379.1,537.5 380.0,537.5 380.9,537.5 381.8,537.5 382.6,526.2 383.5,531.5 384.4,531.5 385.3,536.9 386.2,531.6 387.1,531.5 388.0,533.8 388.8,533.0 389.7,534.1 390.6,512.3 391.5,531.5 392.4,536.1 393.3,531.5 394.2,529.3 395.0,527.3 395.9,522.8 396.8,526.4 397.7,526.8 398.6,536.2 399.5,533.4 400.4,534.0 401.2,535.8 402.1,531.5 403.0,535.5 403.9,535.9 404.8,536.4 405.7,535.2 406.6,535.6 407.4,535.3 408.3,525.6 409.2,525.4 410.1,520.3 411.0,522.8 411.9,527.3 412.8,535.0 413.6,528.1 414.5,523.9 415.4,521.5 416.3,526.1 417.2,529.6 418.1,531.5 418.9,535.4 419.8,531.5 420.7,531.3 421.6,531.5 422.5,531.6 423.4,531.5 424.3,521.0 425.1,513.5 426.0,523.2 426.9,535.9 427.8,531.5 428.7,535.6 429.6,531.5 430.5,532.0 431.3,532.0 432.2,534.7 433.1,531.5 434.0,533.5 434.9,534.6 435.8,532.7 436.7,525.3 437.5,523.7 438.4,527.1 439.3,531.5 440.2,531.5 441.1,531.5 442.0,531.5 442.9,533.3 443.7,535.5 444.6,531.5 445.5,536.7 446.4,531.5 447.3,533.6 448.2,526.3 449.1,522.3 449.9,527.0 450.8,533.8 451.7,535.9 452.6,531.7 453.5,533.7 454.4,531.5 455.2,531.5 456.1,531.7 457.0,535.0 457.9,532.6 458.8,533.5 459.7,523.1 460.6,536.7 461.4,532.4 462.3,531.5 463.2,535.7 464.1,533.2 465.0,531.5 465.9,534.4 466.8,534.8 467.6,532.1 468.5,531.5 469.4,528.8 470.3,525.9 471.2,524.9 472.1,527.6 473.0,529.7 473.8,531.5 474.7,531.4 475.6,528.5 476.5,527.6 477.4,524.1 478.3,528.1 479.2,528.9 480.0,531.4 480.9,531.5 481.8,534.7 482.7,532.3 483.6,532.5 484.5,533.2 485.4,536.9 486.2,534.3 487.1,536.5 488.0,533.2 488.9,531.5 489.8,531.5 490.7,531.5 491.6,533.9 492.4,524.1 493.3,531.5 494.2,531.5 495.1,531.5 496.0,535.3 496.9,532.7 497.8,531.5 498.6,535.4 499.5,531.7 500.4,527.7 501.3,526.7 502.2,527.4 503.1,525.9 503.9,530.5 504.8,536.4 505.7,531.5 506.6,529.9 507.5,526.3 508.4,528.9 509.3,535.8 510.1,536.0 511.0,532.1 511.9,536.3 512.8,531.5 513.7,531.5 514.6,534.3 515.5,536.8 516.3,535.8 517.2,531.5 518.1,535.7 519.0,531.5 519.9,531.5 520.8,536.4 521.7,527.9 522.5,524.0 523.4,528.4 524.3,531.5 525.2,531.5 526.1,534.1 527.0,533.4 527.9,536.8 528.7,534.0 529.6,535.3 530.5,536.5 531.4,536.0 532.3,536.1 533.2,536.0 534.1,536.7 534.9,524.6 535.8,535.8 536.7,533.5 537.6,531.5 538.5,536.9 539.4,532.0 540.2,531.5 541.1,532.8 542.0,531.4 542.9,531.7 543.8,535.7 544.7,531.5 545.6,531.5 546.4,534.5 547.3,531.2 548.2,531.5 549.1,531.5 550.0,531.5 550.9,521.2 551.8,534.6 552.6,531.5 553.5,531.5 554.4,531.5 555.3,531.5 556.2,532.9 557.1,535.9 558.0,532.6 558.8,536.5 559.7,534.3 560.6,533.9 561.5,531.5 562.4,531.5 563.3,524.2 564.2,521.8 565.0,527.1 565.9,534.9 566.8,531.5 567.7,531.5 568.6,533.2 569.5,535.3 570.4,531.9 571.2,531.5 572.1,532.6 573.0,534.1 573.9,537.0 574.8,531.5 575.7,531.9 576.6,528.0 577.4,522.8 578.3,519.8 579.2,524.3 580.1,527.5 581.0,533.8 581.9,534.5 582.8,532.8 583.6,533.5 584.5,531.5 585.4,532.3 586.3,534.2 587.2,531.5 588.1,532.9 588.9,525.2 589.8,519.5 590.7,523.5 591.6,531.6 592.5,533.8 593.4,536.0 594.3,531.1 595.1,535.3 596.0,531.5 596.9,533.7 597.8,531.5 598.7,535.8 599.6,531.5 600.5,532.7 601.3,525.9 602.2,522.0 603.1,525.8 604.0,532.5 604.9,531.5 605.8,533.0 606.7,534.4 607.5,533.0 608.4,531.6 609.3,531.5 610.2,531.5 611.1,535.2 612.0,531.5 612.9,528.8 613.7,524.6 614.6,523.0 615.5,527.4 616.4,529.9 617.3,531.4 618.2,533.6 619.1,534.9 619.9,535.9 620.8,533.0 621.7,531.1 622.6,527.4 623.5,535.7 624.4,534.7 625.2,531.5 626.1,527.0 627.0,527.4 627.9,526.1 628.8,526.3 629.7,528.1 630.6,536.4 631.4,533.1 632.3,531.9 633.2,536.9 634.1,535.3 635.0,532.2 635.9,534.8 636.8,531.5 637.6,531.5 638.5,531.5 639.4,535.2 640.3,527.6 641.2,524.4 642.1,527.8 643.0,531.8 643.8,534.3 644.7,534.4 645.6,531.5 646.5,537.0 647.4,534.6 648.3,531.5 649.2,532.7 650.0,532.4 650.9,536.0 651.8,531.5 652.7,531.5 653.6,531.5 654.5,531.5 655.4,527.7 656.2,526.3 657.1,526.1 658.0,534.6 658.9,531.1 659.8,531.5 660.7,531.9 661.6,534.4 662.4,531.5 663.3,528.8 664.2,526.6 665.1,526.4 666.0,531.9 666.9,534.6 667.8,533.5 668.6,535.1 669.5,535.5 670.4,521.4 671.3,514.6 672.2,520.9 673.1,536.4 673.9,534.2 674.8,536.4 675.7,531.3 676.6,536.4 677.5,534.6 678.4,532.8 679.3,531.4 680.1,531.5 681.0,534.0 681.9,531.3 682.8,534.2 683.7,531.5 684.6,533.4 685.5,531.5 686.3,525.7 687.2,520.0 688.1,525.8 689.0,535.8 689.9,531.5 690.8,534.4 691.7,531.6 692.5,531.7 693.4,536.7 694.3,531.5 695.2,531.5 696.1,531.5 697.0,531.4 697.9,535.9 698.7,533.1 699.6,531.3 700.5,531.5 701.4,523.9 702.3,536.6 703.2,533.8 704.1,531.5 704.9,531.5 705.8,536.4 706.7,531.5 707.6,533.1 708.5,532.0 709.4,537.0 710.2,531.5 711.1,532.1 712.0,531.3 712.9,531.5 713.8,532.9 714.7,536.2 715.6,522.8 716.4,536.6 717.3,531.5 718.2,531.5 719.1,535.3 720.0,531.5 720.9,531.5 721.8,531.5 722.6,535.7 723.5,535.0 724.4,534.5 725.3,531.5 726.2,536.6 727.1,525.3 728.0,522.5 728.8,519.2 729.7,524.9 730.6,525.8 731.5,532.7 732.4,531.5 733.3,531.5 734.2,531.5 735.0,532.5 735.9,531.5 736.8,526.4 737.7,527.2 738.6,527.1 739.5,535.5 740.4,536.6 741.2,532.1 742.1,529.2 743.0,524.0 743.9,525.6 744.8,536.1 745.7,534.1 746.6,532.0 747.4,532.0 748.3,532.4 749.2,535.6 750.1,535.7 751.0,531.5 751.9,525.4 752.8,522.1 753.6,525.1 754.5,535.3 755.4,536.2 756.3,531.5 757.2,531.5 758.1,531.5 758.9,533.6 759.8,532.6 760.7,531.4 761.6,534.4 762.5,535.7 763.4,531.5 764.3,531.5 765.1,529.5 766.0,526.9 766.9,524.8 767.8,526.5 768.7,528.7 769.6,531.5 770.5,531.5 771.3,536.0 772.2,531.4 773.1,533.2 774.0,531.5 774.9,531.3 775.8,535.6 776.7,531.9 777.5,525.9 778.4,522.7 779.3,526.4 780.2,531.8 781.1,532.8 782.0,531.5 782.9,531.5 783.7,535.6 784.6,532.4 785.5,531.5 786.4,532.5 787.3,536.6 788.2,533.0 789.1,534.7 789.9,531.5 790.8,534.9 791.7,526.7 792.6,522.7 793.5,528.3 794.4,533.8 795.2,536.1 796.1,535.7 797.0,531.5 797.9,532.1 798.8,532.0 799.7,531.5 800.6,531.5 801.4,532.9 802.3,537.0 803.2,526.2 804.1,525.3 805.0,521.8 805.9,525.6 806.8,528.4 807.6,531.5 808.5,531.5 809.4,531.5 810.3,536.5 811.2,532.6 812.1,528.1 813.0,525.6 813.8,527.1 814.7,531.1 815.6,533.3 816.5,531.5 817.4,533.0 818.3,534.1 819.2,531.5 820.0,532.4 820.9,531.5 821.8,521.2 822.7,531.2 823.6,533.5 824.5,531.8 825.4,532.6 826.2,529.9 827.1,528.6 828.0,525.9 828.9,529.6 829.8,530.7 830.7,536.2 831.6,531.5 832.4,531.5 833.3,532.3 834.2,531.5 835.1,531.5 836.0,534.4 836.9,536.9 837.8,531.5 838.6,536.5 839.5,531.5 840.4,525.0 841.3,524.4 842.2,525.7 843.1,531.5 843.9,533.4 844.8,531.5 845.7,533.0 846.6,532.7 847.5,531.5 848.4,533.9 849.3,531.5 850.1,532.4 851.0,531.5 851.9,529.2 852.8,526.0 853.7,527.7 854.6,535.2 855.5,531.5 856.3,533.2 857.2,526.9 858.1,522.0 859.0,525.8 859.9,533.0 860.8,531.5 861.7,531.5 862.5,536.4 863.4,532.6 864.3,532.1 865.2,517.3 866.1,533.2 867.0,536.7 867.9,534.8 868.7,533.5 869.6,532.7 870.5,536.3 871.4,527.0 872.3,520.3 873.2,524.1 874.1,532.9 874.9,536.9 875.8,531.5 876.7,531.5 877.6,531.5 878.5,532.4 879.4,531.5 880.2,533.4 881.1,531.5 882.0,534.9 882.9,534.7 883.8,536.0 884.7,533.0 885.6,536.3 886.4,535.3 887.3,535.1 888.2,523.2 889.1,531.5 890.0,533.9 890.9,533.2 891.8,531.5 892.6,534.2 893.5,531.5 894.4,531.5 895.3,532.1 896.2,531.8 897.1,531.5 898.0,531.5 898.8,527.0 899.7,522.1 900.6,524.7 901.5,532.0 902.4,536.2 903.3,531.5 904.2,531.5 905.0,535.8 905.9,522.9 906.8,531.5 907.7,533.0 908.6,535.6 909.5,536.0 910.4,533.5 911.2,534.7 912.1,535.8 913.0,531.5 913.9,525.5 914.8,522.6 915.7,525.6 916.6,531.5 917.4,536.6 918.3,531.8 919.2,533.5 920.1,533.4 921.0,536.9 921.9,531.5 922.8,531.7 923.6,531.5 924.5,531.5 925.4,537.0 926.3,531.5 927.2,531.2 928.1,523.1 928.9,517.4 929.8,522.3 930.7,531.5 931.6,534.7 932.5,536.9 933.4,535.2 934.3,535.8 935.1,531.5 936.0,531.5 936.9,529.7 937.8,526.2 938.7,526.4 939.6,531.1 940.5,531.9 941.3,532.6 942.2,531.5 943.1,533.2 944.0,531.5 944.9,531.5 945.8,531.5 946.7,532.9 947.5,531.5 948.4,531.5 949.3,537.0 950.2,529.7 951.1,524.9 952.0,521.3 952.9,525.2 953.7,528.3 954.6,532.7 955.5,536.2 956.4,533.7 957.3,535.3 958.2,526.1 959.1,531.5 959.9,531.5 960.8,531.5 961.7,531.5 962.6,535.5 963.5,534.1 964.4,531.5 965.2,531.5 966.1,531.1 967.0,535.9 967.9,535.4 968.8,535.8 969.7,535.6 970.6,529.4 971.4,525.6 972.3,528.1 973.2,531.1 974.1,532.4 975.0,533.2 975.9,535.9 976.8,534.8 977.6,532.7 978.5,526.8 979.4,523.9 980.3,525.2 981.2,531.5 982.1,534.3 983.0,532.1 983.8,531.5 984.7,531.5 985.6,533.6 986.5,531.5 987.4,533.4 988.3,534.2 989.2,532.2 990.0,532.9 990.9,528.2 991.8,525.7 992.7,528.4 993.6,535.2 994.5,531.5 995.4,531.5 996.2,536.7 997.1,532.1 998.0,536.9 998.9,531.5 999.8,533.3 1000.7,532.3 1001.6,536.3 1002.4,521.8 1003.3,534.4 1004.2,531.5 1005.1,535.1 1006.0,535.0 1006.9,533.3 1007.8,531.5 1008.6,527.6 1009.5,531.2 1010.4,533.7 1011.3,534.6 1012.2,531.9 1013.1,537.0 1013.9,532.9 1014.8,536.9 1015.7,536.2 1016.6,525.6 1017.5,533.9 1018.4,531.5 1019.3,534.9 1020.1,536.0 1021.0,534.1 1021.9,531.4 1022.8,535.3 1023.7,523.8 1024.6,533.7 1025.5,536.2 1026.3,531.5 1027.2,531.5 1028.1,531.4 1029.0,535.7 1029.9,532.5 1030.8,536.1 1031.7,525.6 1032.5,535.8 1033.4,531.5 1034.3,531.6 1035.2,531.5 1036.1,536.2 1037.0,529.5 1037.9,527.2 1038.7,527.8 1039.6,536.4 1040.5,531.5 1041.4,532.2 1042.3,536.3 1043.2,532.2 1044.1,533.6 1044.9,531.5 1045.8,532.9 1046.7,526.2 1047.6,525.3 1048.5,525.9 1049.4,524.2 1050.2,529.4 1051.1,531.5 1052.0,526.7 1052.9,524.1 1053.8,522.9 1054.7,523.6 1055.6,528.8 1056.4,533.4 1057.3,531.5 1058.2,533.5 1059.1,533.5 1060.0,534.0 1060.9,533.1 1061.8,532.4 1062.6,532.7 1063.5,519.0 1064.4,535.1 1065.3,536.6 1066.2,535.5 1067.1,533.7 1068.0,531.5 1068.8,532.7 1069.7,536.7 1070.6,531.5 1071.5,535.0 1072.4,523.3 1073.3,531.8 1074.2,532.5 1075.0,533.0 1075.9,536.1 1076.8,534.3 1077.7,531.5 1078.6,531.5 1079.5,533.2 1080.4,535.0 1081.2,536.4 1082.1,531.1 1083.0,533.8 1083.9,533.8 1084.8,535.0 1085.7,528.5 1086.6,523.1 1087.4,529.3 1088.3,535.2 1089.2,531.4 1090.1,533.4 1091.0,532.3 1091.9,532.3 1092.8,531.9 1093.6,535.5 1094.5,531.5 1095.4,531.5 1096.3,534.7 1097.2,532.5 1098.1,535.4 1098.9,531.7 1099.8,531.1 1100.7,528.4 1101.6,524.3 1102.5,527.0 1103.4,531.7 1104.3,532.8 1105.1,531.7 1106.0,531.8 1106.9,531.5 1107.8,532.8 1108.7,532.5 1109.6,531.3 1110.5,531.5 1111.3,534.3 1112.2,536.1 1113.1,531.5 1114.0,531.9 1114.9,523.1 1115.8,534.7 1116.7,536.8 1117.5,531.1 1118.4,531.5 1119.3,535.4 1120.2,531.9 1121.1,531.2 1122.0,531.5 1122.9,536.8 1123.7,536.1 1124.6,531.5 1125.5,531.5 1126.4,531.5 1127.3,531.5 1128.2,533.0 1129.1,534.9 1129.9,526.1 1130.8,526.2 1131.7,526.8 1132.6,531.5 1133.5,532.5 1134.4,533.6 1135.2,533.2 1136.1,533.7 1137.0,531.5 1137.9,531.4 1138.8,534.3 1139.7,520.9 1140.6,531.5 1141.4,532.9 1142.3,532.4 1143.2,533.9 1144.1,531.5 1145.0,536.8 1145.9,531.5 1146.8,536.8 1147.6,534.6 1148.5,525.5 1149.4,523.6 1150.3,526.0 1151.2,535.5 1152.1,531.5 1153.0,531.5 1153.8,527.0 1154.7,522.8 1155.6,526.4 1156.5,533.4 1157.4,531.5 1158.3,531.5 1159.2,527.5 1160.0,521.4 1160.9,526.2 1161.8,531.3 1162.7,531.3 1163.6,534.3 1164.5,534.8 1165.4,531.5 1166.2,535.5 1167.1,531.0 1168.0,533.5 1168.9,536.9 1169.8,531.4 1170.7,523.2 1171.6,515.8 1172.4,523.9 1173.3,531.5 1174.2,535.4 1175.1,531.5 1176.0,531.5 1176.9,535.0 1177.8,531.7 1178.6,531.5 1179.5,536.7 1180.4,536.5 1181.3,531.5 1182.2,534.2 1183.1,531.7 1183.9,533.8 1184.8,531.5 1185.7,533.3 1186.6,528.1 1187.5,523.5 1188.4,528.2 1189.3,531.5 1190.1,532.0 1191.0,532.2 1191.9,532.0 1192.8,534.5 1193.7,533.3 1194.6,525.7 1195.5,534.5 1196.3,536.9 1197.2,535.2 1198.1,531.5 1199.0,531.5 1199.9,534.4 1200.8,530.0 1201.7,524.1 1202.5,526.5 1203.4,533.6 1204.3,534.4 1205.2,536.5 1206.1,527.2 1207.0,523.1 1207.9,527.9 1208.7,536.1 1209.6,531.5 1210.5,534.4 1211.4,533.0 1212.3,531.5 1213.2,535.6 1214.1,531.6 1214.9,532.3 1215.8,531.5 1216.7,520.3 1217.6,531.5 1218.5,534.5 1219.4,536.5 1220.2,533.2 1221.1,535.3 1222.0,531.5 1222.9,524.7 1223.8,531.5 1224.7,531.5 1225.6,531.5 1226.4,532.5 1227.3,531.5 1228.2,531.5 1229.1,531.5 1230.0,532.6 1230.9,531.5 1231.8,528.4 1232.6,522.9 1233.5,527.3 1234.4,536.1 1235.3,534.3 1236.2,534.2 1237.1,536.5 1238.0,532.6 1238.8,531.5 1239.7,533.2 1240.6,532.4 1241.5,528.3 1242.4,524.4 1243.3,528.8 1244.2,532.4 1245.0,531.7 1245.9,534.9 1246.8,531.5 1247.7,531.6 1248.6,531.7 1249.5,528.6 1250.4,525.1 1251.2,525.2 1252.1,526.1 1253.0,529.2 1253.9,536.1 1254.8,534.1 1255.7,531.5 1256.6,532.1 1257.4,533.1 1258.3,532.2 1259.2,533.5 1260.1,531.5 1261.0,534.3 1261.9,534.4 1262.8,527.3 1263.6,524.9 1264.5,526.2 1265.4,536.7 1266.3,536.2 1267.2,531.1 1268.1,534.5 1268.9,534.7 1269.8,536.6 1270.7,531.5 1271.6,536.8 1272.5,531.5 1273.4,531.5 1274.3,536.7 1275.1,531.5 1276.0,531.5 1276.9,535.1 1277.8,530.5 1278.7,527.5 1279.6,528.2 1280.5,527.8 1281.3,528.8 1282.2,533.4 1283.1,533.1 1284.0,531.5 1284.9,532.6 1285.8,534.2 1286.7,535.0 1287.5,532.4 1288.4,532.1 1289.3,531.5 1290.2,531.5 1291.1,524.7 1292.0,532.4 1292.9,532.6 1293.7,532.5 1294.6,532.1 1295.5,531.5 1296.4,533.0 1297.3,535.0 1298.2,534.2 1299.1,531.5 1299.9,532.5 1300.8,525.3 1301.7,521.5 1302.6,523.9 1303.5,536.9 1304.4,531.8 1305.2,535.7 1306.1,535.7 1307.0,532.7 1307.9,535.4 1308.8,526.5 1309.7,523.9 1310.6,528.9 1311.4,531.5 1312.3,531.9 1313.2,531.5 1314.1,536.8 1315.0,533.1 1315.9,531.9 1316.8,536.7 1317.6,531.5 1318.5,531.5 1319.4,536.3 1320.3,536.7 1321.2,533.2 1322.1,531.5 1323.0,525.9 1323.8,523.2 1324.7,520.1 1325.6,526.0 1326.5,528.3 1327.4,537.5 1328.3,537.5 1329.2,537.5 1330.0,537.5 1330.9,537.5 1331.8,537.5 1332.7,537.5 1333.6,537.5 1334.5,537.5 1335.4,537.5 1336.2,537.5 1337.1,537.5 1338.0,537.5 1338.9,537.5 1339.8,537.5 1340.7,537.5 1341.6,537.5 1342.4,537.5 1343.3,537.5 1344.2,537.5 1345.1,537.5 1346.0,537.5 1346.9,537.5 1347.8,537.5 1348.6,537.5 1349.5,537.5 1350.4,537.5 1351.3,537.5 1352.2,537.5 1353.1,537.5 1353.9,537.5 1354.8,537.5 1355.7,537.5 1356.6,537.5 1357.5,537.5 1358.4,537.5 1359.3,537.5 1360.1,537.5 1361.0,537.5 1361.9,537.5 1362.8,537.5 1363.7,537.5 1364.6,531.5 1365.5,532.4 1366.3,531.9 1367.2,532.7 1368.1,531.5" fill="none" stroke="#56b4e9" stroke-width="1.0" stroke-linejoin="miter" />
<path d="M116.8,531L117.7,505L118.6,531" stroke="#56b4e9" stroke-width="0.8" fill="none"/>
<path d="M293.7,535L294.6,490L295.5,535" stroke="#009e73" stroke-width="0.8" fill="none"/>
<path d="M509.5,535L510.4,490L511.3,535" stroke="#009e73" stroke-width="0.8" fill="none"/>
<path d="M688.4,535L689.3,492L690.2,535" stroke="#009e73" stroke-width="0.8" fill="none"/>
<path d="M788.1,535L789.0,494L789.9,535" stroke="#009e73" stroke-width="0.8" fill="none"/>
<path d="M1225.5,535L1226.4,492L1227.3,535" stroke="#009e73" stroke-width="0.8" fill="none"/>
<path d="M1315.6,535L1316.5,492L1317.4,535" stroke="#009e73" stroke-width="0.8" fill="none"/>
<path d="M816.6,535L817.5,508L818.4,535" stroke="#009e73" stroke-width="0.8" fill="none"/>
<path d="M903.7,535L904.6,508L905.5,535" stroke="#009e73" stroke-width="0.8" fill="none"/>
<path d="M908.1,535L909.0,508L909.9,535" stroke="#009e73" stroke-width="0.8" fill="none"/>
<path d="M956.6,535L957.5,492L958.4,535" stroke="#009e73" stroke-width="0.8" fill="none"/>
<path d="M997.1,535L998.0,508L998.9,535" stroke="#009e73" stroke-width="0.8" fill="none"/>
<path d="M862.9,531L863.8,513L864.6,531" stroke="#56b4e9" stroke-width="0.8" fill="none"/>
<polyline points="330.4,531.5 330.6,364.0 333.2,412.0" fill="none" stroke="#56b4e9" stroke-width="1.0" stroke-linejoin="miter" />
<polyline points="330.3,540.0 330.3,470.0" fill="none" stroke="#56b4e9" stroke-width="1.0" stroke-linejoin="miter" />
<polyline points="332.8,440.0 332.8,481.0" fill="none" stroke="#56b4e9" stroke-width="1.0" stroke-linejoin="miter" />
<polyline points="338.9,440.0 338.9,481.0" fill="none" stroke="#56b4e9" stroke-width="1.0" stroke-linejoin="miter" />
<polyline points="343.3,440.0 344.3,490.0 346.1,537.2 354.0,537.2 355.5,480.0" fill="none" stroke="#56b4e9" stroke-width="1.0" stroke-linejoin="miter" />
<polyline points="367.0,470.0 375.0,532.0" fill="none" stroke="#56b4e9" stroke-width="1.0" stroke-linejoin="miter" />
<polyline points="369.5,470.0 377.5,532.0" fill="none" stroke="#56b4e9" stroke-width="1.0" stroke-linejoin="miter" />
<polyline points="329.2,525.3 333.8,494.6 334.5,470.0" fill="none" stroke="#009e73" stroke-width="1.0" stroke-linejoin="miter" />
<polyline points="346.6,470.0 348.4,535.9 350.2,470.0" fill="none" stroke="#009e73" stroke-width="1.0" stroke-linejoin="miter" />
<polyline points="363.0,480.0 364.5,532.0 366.0,480.0" fill="none" stroke="#009e73" stroke-width="1.0" stroke-linejoin="miter" />
<polyline points="372.0,470.0 376.5,534.0 378.0,470.0" fill="none" stroke="#009e73" stroke-width="1.0" stroke-linejoin="miter" />
<polyline points="1328.0,534.0 1330.5,480.0 1332.0,537.0" fill="none" stroke="#009e73" stroke-width="1.0" stroke-linejoin="miter" />
<polyline points="1340.0,537.0 1341.0,480.0 1344.0,532.0" fill="none" stroke="#009e73" stroke-width="1.0" stroke-linejoin="miter" />
<polyline points="1350.0,480.0 1351.5,537.0 1353.0,480.0" fill="none" stroke="#009e73" stroke-width="1.0" stroke-linejoin="miter" />
<polyline points="1361.0,480.0 1362.5,530.0 1364.0,535.0" fill="none" stroke="#009e73" stroke-width="1.0" stroke-linejoin="miter" />
<polyline points="1342.0,480.0 1347.0,535.0" fill="none" stroke="#56b4e9" stroke-width="1.0" stroke-linejoin="miter" />
<polyline points="1356.0,480.0 1360.0,535.0" fill="none" stroke="#56b4e9" stroke-width="1.0" stroke-linejoin="miter" />
<polyline points="329.5,539.0 330.4,539.0 330.4,310.0 331.5,304.4 359.3,304.4 359.3,539.0 361.3,539.0 361.3,304.4 363.6,304.4 363.6,539.0 366.4,539.0 366.4,304.4 368.4,304.4 368.4,539.0 375.3,539.0 375.3,304.4 377.6,304.4 377.6,539.0 383.0,539.0" fill="none" stroke="#9400d3" stroke-width="1.0" stroke-linejoin="miter" />
<polyline points="345.6,304.4 345.6,338.7" fill="none" stroke="#9400d3" stroke-width="1.0" stroke-linejoin="miter" />
<polyline points="346.4,304.4 346.4,320.4" fill="none" stroke="#9400d3" stroke-width="1.0" stroke-linejoin="miter" />
<polyline points="1330.0,539.0 1336.3,539.0 1336.3,304.4 1336.3,345.0 1338.4,345.0 1338.4,304.4 1346.3,304.4 1346.3,345.0 1348.5,345.0 1348.5,304.4 1352.7,304.4 1352.7,345.0 1355.5,345.0 1355.5,304.4 1358.3,304.4 1358.3,345.0" fill="none" stroke="#9400d3" stroke-width="1.0" stroke-linejoin="miter" />
<polyline points="1337.5,345.0 1337.5,539.0" fill="none" stroke="#9400d3" stroke-width="1.0" stroke-linejoin="miter" />
<polyline points="1347.5,345.0 1347.5,539.0" fill="none" stroke="#9400d3" stroke-width="1.0" stroke-linejoin="miter" />
<polyline points="1355.0,345.0 1355.0,539.0" fill="none" stroke="#9400d3" stroke-width="1.0" stroke-linejoin="miter" />
<polyline points="1359.0,345.0 1359.0,539.0" fill="none" stroke="#9400d3" stroke-width="1.0" stroke-linejoin="miter" />
<polyline points="330.4,540.0 330.4,364.0" fill="none" stroke="#56b4e9" stroke-width="1.0" stroke-linejoin="miter" />
<rect x="324.2" y="481.2" width="58.8" height="12.6" fill="#f0e442"/>
<rect x="1329.0" y="481.0" width="36.0" height="12.6" fill="#f0e442"/>
<rect x="776.9" y="481.2" width="13" height="12.6" fill="#f0e442"/>
<rect x="194.1" y="481.3" width="13" height="12.6" fill="#f0e442"/>
<rect x="327.9" y="427" width="55.1" height="12.7" fill="#e69f00"/>
<rect x="333.0" y="429.2" width="1.3" height="8.1" fill="#fff"/>
<rect x="337.1" y="429.2" width="1.3" height="8.1" fill="#fff"/>
<rect x="349.9" y="429.2" width="1.3" height="8.1" fill="#fff"/>
<rect x="354.6" y="429.2" width="1.3" height="8.1" fill="#fff"/>
<rect x="358.9" y="429.2" width="1.3" height="8.1" fill="#fff"/>
<rect x="358.8" y="429.2" width="1" height="8.1" fill="#9400d3"/>
<rect x="363.2" y="429.2" width="1.3" height="8.1" fill="#fff"/>
<rect x="363.1" y="429.2" width="1" height="8.1" fill="#9400d3"/>
<rect x="368.0" y="429.2" width="1.3" height="8.1" fill="#fff"/>
<rect x="367.9" y="429.2" width="1" height="8.1" fill="#9400d3"/>
<rect x="374.9" y="429.2" width="1.3" height="8.1" fill="#fff"/>
<rect x="374.8" y="429.2" width="1" height="8.1" fill="#9400d3"/>
<rect x="378.6" y="429.2" width="1.3" height="8.1" fill="#fff"/>
<rect x="1336.6" y="427.9" width="12.6" height="11.2" fill="none" stroke="#e69f00" stroke-width="1.3"/>
<rect x="1352.3" y="427.9" width="10.9" height="11.2" fill="none" stroke="#e69f00" stroke-width="1.3"/>
<rect x="1348.1" y="427.25" width="3.8" height="12.5" fill="#e69f00"/>
<rect x="330.0" y="404.1" width="1.05" height="23.3" fill="#009e73"/>
<rect x="331.0" y="404.1" width="1.05" height="23.3" fill="#009e73"/>
<rect x="332.0" y="404.1" width="1.05" height="23.3" fill="#009e73"/>
<rect x="333.0" y="404.1" width="1.05" height="23.3" fill="#009e73"/>
<rect x="334.0" y="404.1" width="1.05" height="23.3" fill="#009e73"/>
<rect x="335.0" y="404.1" width="1.05" height="23.3" fill="#009e73"/>
<rect x="336.0" y="406.4" width="1.05" height="21.0" fill="#009e73"/>
<rect x="337.0" y="404.1" width="1.05" height="23.3" fill="#009e73"/>
<rect x="338.0" y="404.1" width="1.05" height="23.3" fill="#009e73"/>
<rect x="339.0" y="404.1" width="1.05" height="23.3" fill="#009e73"/>
<rect x="340.0" y="406.4" width="1.05" height="21.0" fill="#009e73"/>
<rect x="342.0" y="406.8" width="1.05" height="20.6" fill="#009e73"/>
<rect x="343.0" y="404.1" width="1.05" height="23.3" fill="#009e73"/>
<rect x="344.0" y="405.2" width="1.05" height="22.2" fill="#009e73"/>
<rect x="345.0" y="408.7" width="1.05" height="18.7" fill="#009e73"/>
<rect x="346.0" y="404.1" width="1.05" height="23.3" fill="#009e73"/>
<rect x="347.0" y="408.1" width="1.05" height="19.3" fill="#009e73"/>
<rect x="350.0" y="407.2" width="1.05" height="20.2" fill="#009e73"/>
<rect x="351.0" y="404.1" width="1.05" height="23.3" fill="#009e73"/>
<rect x="352.0" y="404.1" width="1.05" height="23.3" fill="#009e73"/>
<rect x="353.0" y="405.2" width="1.05" height="22.2" fill="#009e73"/>
<rect x="354.0" y="404.1" width="1.05" height="23.3" fill="#009e73"/>
<rect x="355.0" y="404.1" width="1.05" height="23.3" fill="#009e73"/>
<rect x="356.0" y="408.9" width="1.05" height="18.5" fill="#009e73"/>
<rect x="357.0" y="404.1" width="1.05" height="23.3" fill="#009e73"/>
<rect x="358.0" y="404.1" width="1.05" height="23.3" fill="#009e73"/>
<rect x="361.0" y="408.8" width="1.05" height="18.6" fill="#009e73"/>
<rect x="362.0" y="404.1" width="1.05" height="23.3" fill="#009e73"/>
<rect x="365.0" y="404.1" width="1.05" height="23.3" fill="#009e73"/>
<rect x="368.0" y="404.1" width="1.05" height="23.3" fill="#009e73"/>
<rect x="369.0" y="405.9" width="1.05" height="21.5" fill="#009e73"/>
<rect x="370.0" y="404.8" width="1.05" height="22.6" fill="#009e73"/>
<rect x="371.0" y="405.6" width="1.05" height="21.8" fill="#009e73"/>
<rect x="372.0" y="404.1" width="1.05" height="23.3" fill="#009e73"/>
<rect x="373.0" y="407.5" width="1.05" height="19.9" fill="#009e73"/>
<rect x="374.0" y="405.6" width="1.05" height="21.8" fill="#009e73"/>
<rect x="323.6" y="410.7" width="60.0" height="1.1" fill="#009e73"/>
<rect x="323.6" y="412.9" width="60.0" height="1.1" fill="#009e73"/>
<rect x="323.6" y="415.2" width="60.0" height="1.1" fill="#009e73"/>
<rect x="323.6" y="417.4" width="60.0" height="1.1" fill="#009e73"/>
<rect x="323.6" y="419.7" width="60.0" height="1.1" fill="#009e73"/>
<rect x="323.6" y="421.2" width="60.0" height="1.1" fill="#009e73"/>
<rect x="1335.0" y="404.1" width="1.05" height="23.3" fill="#009e73"/>
<rect x="1340.0" y="404.1" width="1.05" height="23.3" fill="#009e73"/>
<rect x="1341.0" y="404.1" width="1.05" height="23.3" fill="#009e73"/>
<rect x="1342.0" y="404.1" width="1.05" height="23.3" fill="#009e73"/>
<rect x="1343.0" y="404.1" width="1.05" height="23.3" fill="#009e73"/>
<rect x="1344.0" y="404.1" width="1.05" height="23.3" fill="#009e73"/>
<rect x="1345.0" y="404.1" width="1.05" height="23.3" fill="#009e73"/>
<rect x="1347.0" y="404.1" width="1.05" height="23.3" fill="#009e73"/>
<rect x="1348.0" y="404.1" width="1.05" height="23.3" fill="#009e73"/>
<rect x="1349.0" y="408.1" width="1.05" height="19.3" fill="#009e73"/>
<rect x="1350.0" y="404.1" width="1.05" height="23.3" fill="#009e73"/>
<rect x="1351.0" y="404.1" width="1.05" height="23.3" fill="#009e73"/>
<rect x="1352.0" y="404.1" width="1.05" height="23.3" fill="#009e73"/>
<rect x="1354.0" y="404.1" width="1.05" height="23.3" fill="#009e73"/>
<rect x="1357.0" y="406.9" width="1.05" height="20.5" fill="#009e73"/>
<rect x="1328.6" y="409.1" width="34.9" height="1.1" fill="#009e73"/>
<rect x="1328.6" y="411.9" width="34.9" height="1.1" fill="#009e73"/>
<rect x="1328.6" y="414.4" width="34.9" height="1.1" fill="#009e73"/>
<rect x="1328.6" y="416.9" width="34.9" height="1.1" fill="#009e73"/>
<rect x="1328.6" y="419.4" width="34.9" height="1.1" fill="#009e73"/>
<rect x="1328.6" y="421.3" width="34.9" height="1.1" fill="#009e73"/>
<path d="M194.0,421.6H206.8M200.4,415.2V428.0" stroke="#009e73" stroke-width="1.3" fill="none"/>
<polygon points="324,468.6 332.8,456.6 353.8,456.6 358,460.7 362.6,456.6 372.5,456.6 385,468.6" fill="#000"/>
<polygon points="1330,468.75 1337.5,456.25 1359.4,456.25 1366.25,468.75" fill="#000"/>
<polygon points="1277.6,455.2 1285.8,467.9 1269.4,467.9" fill="none" stroke="#000" stroke-width="1.2"/>
<polygon points="1289.9,455.2 1298.1,467.9 1281.7,467.9" fill="none" stroke="#000" stroke-width="1.2"/>
<polygon points="200.4,455.8 208.6,468.5 192.2,468.5" fill="none" stroke="#000" stroke-width="1.2"/>
<polygon points="200.4,402.1 208.6,414.8 192.2,414.8" fill="#9400d3"/>
<circle cx="96.5" cy="523.5" r="5.1" fill="none" stroke="#0072b2" stroke-width="1.25" shape-rendering="geometricPrecision"/>
<path d="M96.5,516.9V518.9M96.5,530.1V528.1M89.9,523.5H91.9M103.1,523.5H101.1" stroke="#0072b2" stroke-width="1"/>
<circle cx="96.5" cy="539.5" r="5.8" fill="#e51e10" shape-rendering="geometricPrecision"/>
<path d="M96.5,532.7V534.7M96.5,546.3V544.3M89.7,539.5H91.7M103.3,539.5H101.3" stroke="#e51e10" stroke-width="1"/>
<circle cx="142.5" cy="518.5" r="5.1" fill="none" stroke="#0072b2" stroke-width="1.25" shape-rendering="geometricPrecision"/>
<path d="M142.5,511.9V513.9M142.5,525.1V523.1M135.9,518.5H137.9M149.1,518.5H147.1" stroke="#0072b2" stroke-width="1"/>
<circle cx="142.5" cy="539.5" r="5.8" fill="#e51e10" shape-rendering="geometricPrecision"/>
<path d="M142.5,532.7V534.7M142.5,546.3V544.3M135.7,539.5H137.7M149.3,539.5H147.3" stroke="#e51e10" stroke-width="1"/>
<circle cx="202.5" cy="523.5" r="5.1" fill="none" stroke="#0072b2" stroke-width="1.25" shape-rendering="geometricPrecision"/>
<path d="M202.5,516.9V518.9M202.5,530.1V528.1M195.9,523.5H197.9M209.1,523.5H207.1" stroke="#0072b2" stroke-width="1"/>
<circle cx="202.5" cy="539.5" r="5.8" fill="#e51e10" shape-rendering="geometricPrecision"/>
<path d="M202.5,532.7V534.7M202.5,546.3V544.3M195.7,539.5H197.7M209.3,539.5H207.3" stroke="#e51e10" stroke-width="1"/>
<circle cx="249.5" cy="521.5" r="5.1" fill="none" stroke="#0072b2" stroke-width="1.25" shape-rendering="geometricPrecision"/>
<path d="M249.5,514.9V516.9M249.5,528.1V526.1M242.9,521.5H244.9M256.1,521.5H254.1" stroke="#0072b2" stroke-width="1"/>
<circle cx="249.5" cy="539.5" r="5.8" fill="#e51e10" shape-rendering="geometricPrecision"/>
<path d="M249.5,532.7V534.7M249.5,546.3V544.3M242.7,539.5H244.7M256.3,539.5H254.3" stroke="#e51e10" stroke-width="1"/>
<circle cx="255.5" cy="521.5" r="5.1" fill="none" stroke="#0072b2" stroke-width="1.25" shape-rendering="geometricPrecision"/>
<path d="M255.5,514.9V516.9M255.5,528.1V526.1M248.9,521.5H250.9M262.1,521.5H260.1" stroke="#0072b2" stroke-width="1"/>
<circle cx="255.5" cy="539.5" r="5.8" fill="#e51e10" shape-rendering="geometricPrecision"/>
<path d="M255.5,532.7V534.7M255.5,546.3V544.3M248.7,539.5H250.7M262.3,539.5H260.3" stroke="#e51e10" stroke-width="1"/>
<circle cx="302.5" cy="521.5" r="5.1" fill="none" stroke="#0072b2" stroke-width="1.25" shape-rendering="geometricPrecision"/>
<path d="M302.5,514.9V516.9M302.5,528.1V526.1M295.9,521.5H297.9M309.1,521.5H307.1" stroke="#0072b2" stroke-width="1"/>
<circle cx="302.5" cy="539.5" r="5.8" fill="#e51e10" shape-rendering="geometricPrecision"/>
<path d="M302.5,532.7V534.7M302.5,546.3V544.3M295.7,539.5H297.7M309.3,539.5H307.3" stroke="#e51e10" stroke-width="1"/>
<circle cx="308.5" cy="523.5" r="5.1" fill="none" stroke="#0072b2" stroke-width="1.25" shape-rendering="geometricPrecision"/>
<path d="M308.5,516.9V518.9M308.5,530.1V528.1M301.9,523.5H303.9M315.1,523.5H313.1" stroke="#0072b2" stroke-width="1"/>
<circle cx="308.5" cy="539.5" r="5.8" fill="#e51e10" shape-rendering="geometricPrecision"/>
<path d="M308.5,532.7V534.7M308.5,546.3V544.3M301.7,539.5H303.7M315.3,539.5H313.3" stroke="#e51e10" stroke-width="1"/>
<circle cx="355.5" cy="303.5" r="5.1" fill="none" stroke="#0072b2" stroke-width="1.25" shape-rendering="geometricPrecision"/>
<path d="M355.5,296.9V298.9M355.5,310.1V308.1M348.9,303.5H350.9M362.1,303.5H360.1" stroke="#0072b2" stroke-width="1"/>
<circle cx="355.5" cy="309.5" r="5.8" fill="#e51e10" shape-rendering="geometricPrecision"/>
<path d="M355.5,302.7V304.7M355.5,316.3V314.3M348.7,309.5H350.7M362.3,309.5H360.3" stroke="#e51e10" stroke-width="1"/>
<circle cx="361.5" cy="303.5" r="5.1" fill="none" stroke="#0072b2" stroke-width="1.25" shape-rendering="geometricPrecision"/>
<path d="M361.5,296.9V298.9M361.5,310.1V308.1M354.9,303.5H356.9M368.1,303.5H366.1" stroke="#0072b2" stroke-width="1"/>
<circle cx="361.5" cy="539.5" r="5.8" fill="#e51e10" shape-rendering="geometricPrecision"/>
<path d="M361.5,532.7V534.7M361.5,546.3V544.3M354.7,539.5H356.7M368.3,539.5H366.3" stroke="#e51e10" stroke-width="1"/>
<circle cx="408.5" cy="500.5" r="5.1" fill="none" stroke="#0072b2" stroke-width="1.25" shape-rendering="geometricPrecision"/>
<path d="M408.5,493.9V495.9M408.5,507.1V505.1M401.9,500.5H403.9M415.1,500.5H413.1" stroke="#0072b2" stroke-width="1"/>
<circle cx="408.5" cy="539.5" r="5.8" fill="#e51e10" shape-rendering="geometricPrecision"/>
<path d="M408.5,532.7V534.7M408.5,546.3V544.3M401.7,539.5H403.7M415.3,539.5H413.3" stroke="#e51e10" stroke-width="1"/>
<circle cx="414.5" cy="521.5" r="5.1" fill="none" stroke="#0072b2" stroke-width="1.25" shape-rendering="geometricPrecision"/>
<path d="M414.5,514.9V516.9M414.5,528.1V526.1M407.9,521.5H409.9M421.1,521.5H419.1" stroke="#0072b2" stroke-width="1"/>
<circle cx="414.5" cy="539.5" r="5.8" fill="#e51e10" shape-rendering="geometricPrecision"/>
<path d="M414.5,532.7V534.7M414.5,546.3V544.3M407.7,539.5H409.7M421.3,539.5H419.3" stroke="#e51e10" stroke-width="1"/>
<circle cx="461.5" cy="521.5" r="5.1" fill="none" stroke="#0072b2" stroke-width="1.25" shape-rendering="geometricPrecision"/>
<path d="M461.5,514.9V516.9M461.5,528.1V526.1M454.9,521.5H456.9M468.1,521.5H466.1" stroke="#0072b2" stroke-width="1"/>
<circle cx="461.5" cy="539.5" r="5.8" fill="#e51e10" shape-rendering="geometricPrecision"/>
<path d="M461.5,532.7V534.7M461.5,546.3V544.3M454.7,539.5H456.7M468.3,539.5H466.3" stroke="#e51e10" stroke-width="1"/>
<circle cx="468.5" cy="523.5" r="5.1" fill="none" stroke="#0072b2" stroke-width="1.25" shape-rendering="geometricPrecision"/>
<path d="M468.5,516.9V518.9M468.5,530.1V528.1M461.9,523.5H463.9M475.1,523.5H473.1" stroke="#0072b2" stroke-width="1"/>
<circle cx="468.5" cy="539.5" r="5.8" fill="#e51e10" shape-rendering="geometricPrecision"/>
<path d="M468.5,532.7V534.7M468.5,546.3V544.3M461.7,539.5H463.7M475.3,539.5H473.3" stroke="#e51e10" stroke-width="1"/>
<circle cx="514.5" cy="521.5" r="5.1" fill="none" stroke="#0072b2" stroke-width="1.25" shape-rendering="geometricPrecision"/>
<path d="M514.5,514.9V516.9M514.5,528.1V526.1M507.9,521.5H509.9M521.1,521.5H519.1" stroke="#0072b2" stroke-width="1"/>
<circle cx="514.5" cy="539.5" r="5.8" fill="#e51e10" shape-rendering="geometricPrecision"/>
<path d="M514.5,532.7V534.7M514.5,546.3V544.3M507.7,539.5H509.7M521.3,539.5H519.3" stroke="#e51e10" stroke-width="1"/>
<circle cx="521.5" cy="521.5" r="5.1" fill="none" stroke="#0072b2" stroke-width="1.25" shape-rendering="geometricPrecision"/>
<path d="M521.5,514.9V516.9M521.5,528.1V526.1M514.9,521.5H516.9M528.1,521.5H526.1" stroke="#0072b2" stroke-width="1"/>
<circle cx="521.5" cy="539.5" r="5.8" fill="#e51e10" shape-rendering="geometricPrecision"/>
<path d="M521.5,532.7V534.7M521.5,546.3V544.3M514.7,539.5H516.7M528.3,539.5H526.3" stroke="#e51e10" stroke-width="1"/>
<circle cx="567.5" cy="521.5" r="5.1" fill="none" stroke="#0072b2" stroke-width="1.25" shape-rendering="geometricPrecision"/>
<path d="M567.5,514.9V516.9M567.5,528.1V526.1M560.9,521.5H562.9M574.1,521.5H572.1" stroke="#0072b2" stroke-width="1"/>
<circle cx="567.5" cy="539.5" r="5.8" fill="#e51e10" shape-rendering="geometricPrecision"/>
<path d="M567.5,532.7V534.7M567.5,546.3V544.3M560.7,539.5H562.7M574.3,539.5H572.3" stroke="#e51e10" stroke-width="1"/>
<circle cx="574.5" cy="522.5" r="5.1" fill="none" stroke="#0072b2" stroke-width="1.25" shape-rendering="geometricPrecision"/>
<path d="M574.5,515.9V517.9M574.5,529.1V527.1M567.9,522.5H569.9M581.1,522.5H579.1" stroke="#0072b2" stroke-width="1"/>
<circle cx="574.5" cy="539.5" r="5.8" fill="#e51e10" shape-rendering="geometricPrecision"/>
<path d="M574.5,532.7V534.7M574.5,546.3V544.3M567.7,539.5H569.7M581.3,539.5H579.3" stroke="#e51e10" stroke-width="1"/>
<circle cx="621.5" cy="520.5" r="5.1" fill="none" stroke="#0072b2" stroke-width="1.25" shape-rendering="geometricPrecision"/>
<path d="M621.5,513.9V515.9M621.5,527.1V525.1M614.9,520.5H616.9M628.1,520.5H626.1" stroke="#0072b2" stroke-width="1"/>
<circle cx="621.5" cy="539.5" r="5.8" fill="#e51e10" shape-rendering="geometricPrecision"/>
<path d="M621.5,532.7V534.7M621.5,546.3V544.3M614.7,539.5H616.7M628.3,539.5H626.3" stroke="#e51e10" stroke-width="1"/>
<circle cx="627.5" cy="521.5" r="5.1" fill="none" stroke="#0072b2" stroke-width="1.25" shape-rendering="geometricPrecision"/>
<path d="M627.5,514.9V516.9M627.5,528.1V526.1M620.9,521.5H622.9M634.1,521.5H632.1" stroke="#0072b2" stroke-width="1"/>
<circle cx="627.5" cy="539.5" r="5.8" fill="#e51e10" shape-rendering="geometricPrecision"/>
<path d="M627.5,532.7V534.7M627.5,546.3V544.3M620.7,539.5H622.7M634.3,539.5H632.3" stroke="#e51e10" stroke-width="1"/>
<circle cx="674.5" cy="521.5" r="5.1" fill="none" stroke="#0072b2" stroke-width="1.25" shape-rendering="geometricPrecision"/>
<path d="M674.5,514.9V516.9M674.5,528.1V526.1M667.9,521.5H669.9M681.1,521.5H679.1" stroke="#0072b2" stroke-width="1"/>
<circle cx="674.5" cy="539.5" r="5.8" fill="#e51e10" shape-rendering="geometricPrecision"/>
<path d="M674.5,532.7V534.7M674.5,546.3V544.3M667.7,539.5H669.7M681.3,539.5H679.3" stroke="#e51e10" stroke-width="1"/>
<circle cx="680.5" cy="523.5" r="5.1" fill="none" stroke="#0072b2" stroke-width="1.25" shape-rendering="geometricPrecision"/>
<path d="M680.5,516.9V518.9M680.5,530.1V528.1M673.9,523.5H675.9M687.1,523.5H685.1" stroke="#0072b2" stroke-width="1"/>
<circle cx="680.5" cy="539.5" r="5.8" fill="#e51e10" shape-rendering="geometricPrecision"/>
<path d="M680.5,532.7V534.7M680.5,546.3V544.3M673.7,539.5H675.7M687.3,539.5H685.3" stroke="#e51e10" stroke-width="1"/>
<circle cx="727.5" cy="520.5" r="5.1" fill="none" stroke="#0072b2" stroke-width="1.25" shape-rendering="geometricPrecision"/>
<path d="M727.5,513.9V515.9M727.5,527.1V525.1M720.9,520.5H722.9M734.1,520.5H732.1" stroke="#0072b2" stroke-width="1"/>
<circle cx="727.5" cy="539.5" r="5.8" fill="#e51e10" shape-rendering="geometricPrecision"/>
<path d="M727.5,532.7V534.7M727.5,546.3V544.3M720.7,539.5H722.7M734.3,539.5H732.3" stroke="#e51e10" stroke-width="1"/>
<circle cx="733.5" cy="522.5" r="5.1" fill="none" stroke="#0072b2" stroke-width="1.25" shape-rendering="geometricPrecision"/>
<path d="M733.5,515.9V517.9M733.5,529.1V527.1M726.9,522.5H728.9M740.1,522.5H738.1" stroke="#0072b2" stroke-width="1"/>
<circle cx="733.5" cy="539.5" r="5.8" fill="#e51e10" shape-rendering="geometricPrecision"/>
<path d="M733.5,532.7V534.7M733.5,546.3V544.3M726.7,539.5H728.7M740.3,539.5H738.3" stroke="#e51e10" stroke-width="1"/>
<circle cx="780.5" cy="521.5" r="5.1" fill="none" stroke="#0072b2" stroke-width="1.25" shape-rendering="geometricPrecision"/>
<path d="M780.5,514.9V516.9M780.5,528.1V526.1M773.9,521.5H775.9M787.1,521.5H785.1" stroke="#0072b2" stroke-width="1"/>
<circle cx="780.5" cy="539.5" r="5.8" fill="#e51e10" shape-rendering="geometricPrecision"/>
<path d="M780.5,532.7V534.7M780.5,546.3V544.3M773.7,539.5H775.7M787.3,539.5H785.3" stroke="#e51e10" stroke-width="1"/>
<circle cx="786.5" cy="514.5" r="5.1" fill="none" stroke="#0072b2" stroke-width="1.25" shape-rendering="geometricPrecision"/>
<path d="M786.5,507.9V509.9M786.5,521.1V519.1M779.9,514.5H781.9M793.1,514.5H791.1" stroke="#0072b2" stroke-width="1"/>
<circle cx="786.5" cy="539.5" r="5.8" fill="#e51e10" shape-rendering="geometricPrecision"/>
<path d="M786.5,532.7V534.7M786.5,546.3V544.3M779.7,539.5H781.7M793.3,539.5H791.3" stroke="#e51e10" stroke-width="1"/>
<circle cx="833.5" cy="500.5" r="5.1" fill="none" stroke="#0072b2" stroke-width="1.25" shape-rendering="geometricPrecision"/>
<path d="M833.5,493.9V495.9M833.5,507.1V505.1M826.9,500.5H828.9M840.1,500.5H838.1" stroke="#0072b2" stroke-width="1"/>
<circle cx="833.5" cy="539.5" r="5.8" fill="#e51e10" shape-rendering="geometricPrecision"/>
<path d="M833.5,532.7V534.7M833.5,546.3V544.3M826.7,539.5H828.7M840.3,539.5H838.3" stroke="#e51e10" stroke-width="1"/>
<circle cx="839.5" cy="522.5" r="5.1" fill="none" stroke="#0072b2" stroke-width="1.25" shape-rendering="geometricPrecision"/>
<path d="M839.5,515.9V517.9M839.5,529.1V527.1M832.9,522.5H834.9M846.1,522.5H844.1" stroke="#0072b2" stroke-width="1"/>
<circle cx="839.5" cy="539.5" r="5.8" fill="#e51e10" shape-rendering="geometricPrecision"/>
<path d="M839.5,532.7V534.7M839.5,546.3V544.3M832.7,539.5H834.7M846.3,539.5H844.3" stroke="#e51e10" stroke-width="1"/>
<circle cx="886.5" cy="477.5" r="5.1" fill="none" stroke="#0072b2" stroke-width="1.25" shape-rendering="geometricPrecision"/>
<path d="M886.5,470.9V472.9M886.5,484.1V482.1M879.9,477.5H881.9M893.1,477.5H891.1" stroke="#0072b2" stroke-width="1"/>
<circle cx="886.5" cy="539.5" r="5.8" fill="#e51e10" shape-rendering="geometricPrecision"/>
<path d="M886.5,532.7V534.7M886.5,546.3V544.3M879.7,539.5H881.7M893.3,539.5H891.3" stroke="#e51e10" stroke-width="1"/>
<circle cx="893.5" cy="478.5" r="5.1" fill="none" stroke="#0072b2" stroke-width="1.25" shape-rendering="geometricPrecision"/>
<path d="M893.5,471.9V473.9M893.5,485.1V483.1M886.9,478.5H888.9M900.1,478.5H898.1" stroke="#0072b2" stroke-width="1"/>
<circle cx="893.5" cy="539.5" r="5.8" fill="#e51e10" shape-rendering="geometricPrecision"/>
<path d="M893.5,532.7V534.7M893.5,546.3V544.3M886.7,539.5H888.7M900.3,539.5H898.3" stroke="#e51e10" stroke-width="1"/>
<circle cx="939.5" cy="516.5" r="5.1" fill="none" stroke="#0072b2" stroke-width="1.25" shape-rendering="geometricPrecision"/>
<path d="M939.5,509.9V511.9M939.5,523.1V521.1M932.9,516.5H934.9M946.1,516.5H944.1" stroke="#0072b2" stroke-width="1"/>
<circle cx="939.5" cy="539.5" r="5.8" fill="#e51e10" shape-rendering="geometricPrecision"/>
<path d="M939.5,532.7V534.7M939.5,546.3V544.3M932.7,539.5H934.7M946.3,539.5H944.3" stroke="#e51e10" stroke-width="1"/>
<circle cx="946.5" cy="520.5" r="5.1" fill="none" stroke="#0072b2" stroke-width="1.25" shape-rendering="geometricPrecision"/>
<path d="M946.5,513.9V515.9M946.5,527.1V525.1M939.9,520.5H941.9M953.1,520.5H951.1" stroke="#0072b2" stroke-width="1"/>
<circle cx="946.5" cy="539.5" r="5.8" fill="#e51e10" shape-rendering="geometricPrecision"/>
<path d="M946.5,532.7V534.7M946.5,546.3V544.3M939.7,539.5H941.7M953.3,539.5H951.3" stroke="#e51e10" stroke-width="1"/>
<circle cx="992.5" cy="519.5" r="5.1" fill="none" stroke="#0072b2" stroke-width="1.25" shape-rendering="geometricPrecision"/>
<path d="M992.5,512.9V514.9M992.5,526.1V524.1M985.9,519.5H987.9M999.1,519.5H997.1" stroke="#0072b2" stroke-width="1"/>
<circle cx="992.5" cy="539.5" r="5.8" fill="#e51e10" shape-rendering="geometricPrecision"/>
<path d="M992.5,532.7V534.7M992.5,546.3V544.3M985.7,539.5H987.7M999.3,539.5H997.3" stroke="#e51e10" stroke-width="1"/>
<circle cx="999.5" cy="520.5" r="5.1" fill="none" stroke="#0072b2" stroke-width="1.25" shape-rendering="geometricPrecision"/>
<path d="M999.5,513.9V515.9M999.5,527.1V525.1M992.9,520.5H994.9M1006.1,520.5H1004.1" stroke="#0072b2" stroke-width="1"/>
<circle cx="999.5" cy="539.5" r="5.8" fill="#e51e10" shape-rendering="geometricPrecision"/>
<path d="M999.5,532.7V534.7M999.5,546.3V544.3M992.7,539.5H994.7M1006.3,539.5H1004.3" stroke="#e51e10" stroke-width="1"/>
<circle cx="1046.5" cy="519.5" r="5.1" fill="none" stroke="#0072b2" stroke-width="1.25" shape-rendering="geometricPrecision"/>
<path d="M1046.5,512.9V514.9M1046.5,526.1V524.1M1039.9,519.5H1041.9M1053.1,519.5H1051.1" stroke="#0072b2" stroke-width="1"/>
<circle cx="1046.5" cy="539.5" r="5.8" fill="#e51e10" shape-rendering="geometricPrecision"/>
<path d="M1046.5,532.7V534.7M1046.5,546.3V544.3M1039.7,539.5H1041.7M1053.3,539.5H1051.3" stroke="#e51e10" stroke-width="1"/>
<circle cx="1052.5" cy="519.5" r="5.1" fill="none" stroke="#0072b2" stroke-width="1.25" shape-rendering="geometricPrecision"/>
<path d="M1052.5,512.9V514.9M1052.5,526.1V524.1M1045.9,519.5H1047.9M1059.1,519.5H1057.1" stroke="#0072b2" stroke-width="1"/>
<circle cx="1052.5" cy="539.5" r="5.8" fill="#e51e10" shape-rendering="geometricPrecision"/>
<path d="M1052.5,532.7V534.7M1052.5,546.3V544.3M1045.7,539.5H1047.7M1059.3,539.5H1057.3" stroke="#e51e10" stroke-width="1"/>
<circle cx="1099.5" cy="522.5" r="5.1" fill="none" stroke="#0072b2" stroke-width="1.25" shape-rendering="geometricPrecision"/>
<path d="M1099.5,515.9V517.9M1099.5,529.1V527.1M1092.9,522.5H1094.9M1106.1,522.5H1104.1" stroke="#0072b2" stroke-width="1"/>
<circle cx="1099.5" cy="539.5" r="5.8" fill="#e51e10" shape-rendering="geometricPrecision"/>
<path d="M1099.5,532.7V534.7M1099.5,546.3V544.3M1092.7,539.5H1094.7M1106.3,539.5H1104.3" stroke="#e51e10" stroke-width="1"/>
<circle cx="1105.5" cy="520.5" r="5.1" fill="none" stroke="#0072b2" stroke-width="1.25" shape-rendering="geometricPrecision"/>
<path d="M1105.5,513.9V515.9M1105.5,527.1V525.1M1098.9,520.5H1100.9M1112.1,520.5H1110.1" stroke="#0072b2" stroke-width="1"/>
<circle cx="1105.5" cy="539.5" r="5.8" fill="#e51e10" shape-rendering="geometricPrecision"/>
<path d="M1105.5,532.7V534.7M1105.5,546.3V544.3M1098.7,539.5H1100.7M1112.3,539.5H1110.3" stroke="#e51e10" stroke-width="1"/>
<circle cx="1152.5" cy="517.5" r="5.1" fill="none" stroke="#0072b2" stroke-width="1.25" shape-rendering="geometricPrecision"/>
<path d="M1152.5,510.9V512.9M1152.5,524.1V522.1M1145.9,517.5H1147.9M1159.1,517.5H1157.1" stroke="#0072b2" stroke-width="1"/>
<circle cx="1152.5" cy="539.5" r="5.8" fill="#e51e10" shape-rendering="geometricPrecision"/>
<path d="M1152.5,532.7V534.7M1152.5,546.3V544.3M1145.7,539.5H1147.7M1159.3,539.5H1157.3" stroke="#e51e10" stroke-width="1"/>
<circle cx="1158.5" cy="522.5" r="5.1" fill="none" stroke="#0072b2" stroke-width="1.25" shape-rendering="geometricPrecision"/>
<path d="M1158.5,515.9V517.9M1158.5,529.1V527.1M1151.9,522.5H1153.9M1165.1,522.5H1163.1" stroke="#0072b2" stroke-width="1"/>
<circle cx="1158.5" cy="539.5" r="5.8" fill="#e51e10" shape-rendering="geometricPrecision"/>
<path d="M1158.5,532.7V534.7M1158.5,546.3V544.3M1151.7,539.5H1153.7M1165.3,539.5H1163.3" stroke="#e51e10" stroke-width="1"/>
<circle cx="1205.5" cy="520.5" r="5.1" fill="none" stroke="#0072b2" stroke-width="1.25" shape-rendering="geometricPrecision"/>
<path d="M1205.5,513.9V515.9M1205.5,527.1V525.1M1198.9,520.5H1200.9M1212.1,520.5H1210.1" stroke="#0072b2" stroke-width="1"/>
<circle cx="1205.5" cy="539.5" r="5.8" fill="#e51e10" shape-rendering="geometricPrecision"/>
<path d="M1205.5,532.7V534.7M1205.5,546.3V544.3M1198.7,539.5H1200.7M1212.3,539.5H1210.3" stroke="#e51e10" stroke-width="1"/>
<circle cx="1211.5" cy="522.5" r="5.1" fill="none" stroke="#0072b2" stroke-width="1.25" shape-rendering="geometricPrecision"/>
<path d="M1211.5,515.9V517.9M1211.5,529.1V527.1M1204.9,522.5H1206.9M1218.1,522.5H1216.1" stroke="#0072b2" stroke-width="1"/>
<circle cx="1211.5" cy="539.5" r="5.8" fill="#e51e10" shape-rendering="geometricPrecision"/>
<path d="M1211.5,532.7V534.7M1211.5,546.3V544.3M1204.7,539.5H1206.7M1218.3,539.5H1216.3" stroke="#e51e10" stroke-width="1"/>
<circle cx="1258.5" cy="520.5" r="5.1" fill="none" stroke="#0072b2" stroke-width="1.25" shape-rendering="geometricPrecision"/>
<path d="M1258.5,513.9V515.9M1258.5,527.1V525.1M1251.9,520.5H1253.9M1265.1,520.5H1263.1" stroke="#0072b2" stroke-width="1"/>
<circle cx="1258.5" cy="539.5" r="5.8" fill="#e51e10" shape-rendering="geometricPrecision"/>
<path d="M1258.5,532.7V534.7M1258.5,546.3V544.3M1251.7,539.5H1253.7M1265.3,539.5H1263.3" stroke="#e51e10" stroke-width="1"/>
<circle cx="1264.5" cy="523.5" r="5.1" fill="none" stroke="#0072b2" stroke-width="1.25" shape-rendering="geometricPrecision"/>
<path d="M1264.5,516.9V518.9M1264.5,530.1V528.1M1257.9,523.5H1259.9M1271.1,523.5H1269.1" stroke="#0072b2" stroke-width="1"/>
<circle cx="1264.5" cy="539.5" r="5.8" fill="#e51e10" shape-rendering="geometricPrecision"/>
<path d="M1264.5,532.7V534.7M1264.5,546.3V544.3M1257.7,539.5H1259.7M1271.3,539.5H1269.3" stroke="#e51e10" stroke-width="1"/>
<circle cx="1311.5" cy="521.5" r="5.1" fill="none" stroke="#0072b2" stroke-width="1.25" shape-rendering="geometricPrecision"/>
<path d="M1311.5,514.9V516.9M1311.5,528.1V526.1M1304.9,521.5H1306.9M1318.1,521.5H1316.1" stroke="#0072b2" stroke-width="1"/>
<circle cx="1311.5" cy="539.5" r="5.8" fill="#e51e10" shape-rendering="geometricPrecision"/>
<path d="M1311.5,532.7V534.7M1311.5,546.3V544.3M1304.7,539.5H1306.7M1318.3,539.5H1316.3" stroke="#e51e10" stroke-width="1"/>
<circle cx="1318.5" cy="519.5" r="5.1" fill="none" stroke="#0072b2" stroke-width="1.25" shape-rendering="geometricPrecision"/>
<path d="M1318.5,512.9V514.9M1318.5,526.1V524.1M1311.9,519.5H1313.9M1325.1,519.5H1323.1" stroke="#0072b2" stroke-width="1"/>
<circle cx="1318.5" cy="539.5" r="5.8" fill="#e51e10" shape-rendering="geometricPrecision"/>
<path d="M1318.5,532.7V534.7M1318.5,546.3V544.3M1311.7,539.5H1313.7M1325.3,539.5H1323.3" stroke="#e51e10" stroke-width="1"/>
<circle cx="1364.5" cy="521.5" r="5.1" fill="none" stroke="#0072b2" stroke-width="1.25" shape-rendering="geometricPrecision"/>
<path d="M1364.5,514.9V516.9M1364.5,528.1V526.1M1357.9,521.5H1359.9M1371.1,521.5H1369.1" stroke="#0072b2" stroke-width="1"/>
<circle cx="1364.5" cy="539.5" r="5.8" fill="#e51e10" shape-rendering="geometricPrecision"/>
<path d="M1364.5,532.7V534.7M1364.5,546.3V544.3M1357.7,539.5H1359.7M1371.3,539.5H1369.3" stroke="#e51e10" stroke-width="1"/>
<polygon points="86.0,335.3 155.0,335.3 146.8,347.6 94.2,347.6" fill="#56b4e9"/>
<polygon points="192.8,335.3 339.8,335.3 331.6,347.6 201.0,347.6" fill="#56b4e9"/>
<polygon points="369.1,335.3 1378.2,335.3 1370.0,347.6 377.3,347.6" fill="#56b4e9"/>
<polygon points="339.3,335.4 355.7,335.4 347.5,347.7" fill="none" stroke="#56b4e9" stroke-width="1.2"/>
<polygon points="352.8,335.4 369.2,335.4 361.0,347.7" fill="none" stroke="#56b4e9" stroke-width="1.2"/>
<polygon points="355.8,335.4 372.2,335.4 364.0,347.7" fill="none" stroke="#56b4e9" stroke-width="1.2"/>
<polygon points="358.8,335.4 375.2,335.4 367.0,347.7" fill="none" stroke="#56b4e9" stroke-width="1.2"/>
<polygon points="360.8,335.4 377.2,335.4 369.0,347.7" fill="none" stroke="#56b4e9" stroke-width="1.2"/>
<polygon points="363.8,335.4 380.2,335.4 372.0,347.7" fill="none" stroke="#56b4e9" stroke-width="1.2"/>
<polygon points="113.9,348 116.1,348 115.0,346.2" fill="#fff"/>
<polygon points="463.5,348 465.7,348 464.6,346.2" fill="#fff"/>
<polygon points="546.4,348 548.6,348 547.5,346.2" fill="#fff"/>
<polygon points="629.6,348 631.8,348 630.7,346.2" fill="#fff"/>
<polygon points="711.8,348 714.0,348 712.9,346.2" fill="#fff"/>
<polygon points="793.2,348 795.4,348 794.3,346.2" fill="#fff"/>
<polygon points="871.0,348 873.2,348 872.1,346.2" fill="#fff"/>
<polygon points="1101.9,348 1104.1,348 1103.0,346.2" fill="#fff"/>
<polygon points="1181.4,348 1183.6,348 1182.5,346.2" fill="#fff"/>
<polygon points="1260.4,348 1262.6,348 1261.5,346.2" fill="#fff"/>
<polygon points="1348.0,336.5 1353.0,336.5 1350.5,341" fill="#fff"/>
<polygon points="1362.5,336.5 1367.5,336.5 1365.0,341" fill="#fff"/>
<g stroke="#000" stroke-width="1" fill="none" shape-rendering="crispEdges">
<rect x="94.5" y="57.5" width="1275" height="482"/>
</g>
<line x1="1303" y1="73.3" x2="1350" y2="73.3" stroke="#9400d3" stroke-width="1.2"/>
<line x1="1303" y1="92.3" x2="1350" y2="92.3" stroke="#009e73" stroke-width="1.2"/>
<line x1="1303" y1="111.3" x2="1350" y2="111.3" stroke="#56b4e9" stroke-width="1.2"/>
<rect x="1320.5" y="124.6" width="12" height="11.6" fill="none" stroke="#e69f00" stroke-width="1.3"/>
<rect x="1320.0" y="143.1" width="13" height="12.6" fill="#f0e442"/>
<circle cx="1326.5" cy="168.5" r="5.1" fill="none" stroke="#0072b2" stroke-width="1.25" shape-rendering="geometricPrecision"/>
<path d="M1326.5,161.9V163.9M1326.5,175.1V173.1M1319.9,168.5H1321.9M1333.1,168.5H1331.1" stroke="#0072b2" stroke-width="1"/>
<circle cx="1326.5" cy="187.5" r="5.8" fill="#e51e10" shape-rendering="geometricPrecision"/>
<path d="M1326.5,180.7V182.7M1326.5,194.3V192.3M1319.7,187.5H1321.7M1333.3,187.5H1331.3" stroke="#e51e10" stroke-width="1"/>
<polygon points="1326.5,198.1 1334.7,210.8 1318.3,210.8" fill="none" stroke="#000" stroke-width="1.2"/>
<polygon points="1326.5,217.0 1334.7,229.7 1318.3,229.7" fill="#9400d3"/>
<path d="M1320.1,244.3H1332.9M1326.5,237.9V250.7" stroke="#009e73" stroke-width="1.3" fill="none"/>
<polygon points="1318.3,259.4 1334.7,259.4 1326.5,271.7" fill="none" stroke="#56b4e9" stroke-width="1.2"/></svg></body></html>
